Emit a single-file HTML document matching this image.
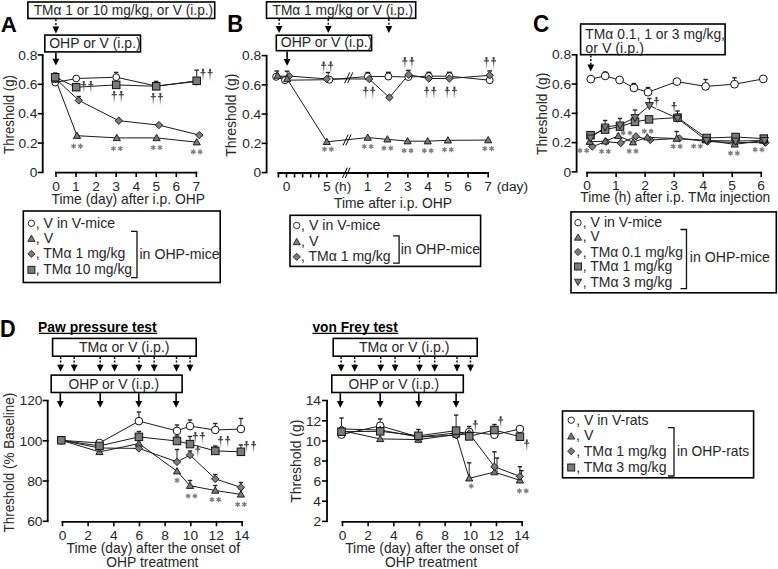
<!DOCTYPE html>
<html><head><meta charset="utf-8"><style>
html,body{margin:0;padding:0;background:#fff;width:778px;height:569px;overflow:hidden}
svg{display:block;font-family:"Liberation Sans",sans-serif}
</style></head><body>
<svg width="778" height="569" viewBox="0 0 778 569">
<defs><linearGradient id="dg" x1="0" y1="0" x2="0" y2="1"><stop offset="0" stop-color="#3a3a3a"/><stop offset="0.4" stop-color="#5a5a5a"/><stop offset="1" stop-color="#fafafa"/></linearGradient></defs>
<text transform="translate(0.64,31.6) scale(0.97,1)" font-size="23" font-weight="bold" fill="#000">A</text>
<rect x="27.9" y="2" width="186.8" height="16.5" fill="#fff" stroke="#000" stroke-width="1.6"/>
<text transform="translate(33.73,14.7) scale(0.98,1)" font-size="14" fill="#262626">TMα 1 or 10 mg/kg, or V (i.p.)</text>
<line x1="55.9" y1="19.3" x2="55.9" y2="27" stroke="#111" stroke-width="1.5" stroke-dasharray="2,1.6"/>
<polygon points="52.5,26.5 59.3,26.5 55.9,33.4" fill="#000"/>
<rect x="44.8" y="35.1" width="95.7" height="16.8" fill="#fff" stroke="#000" stroke-width="1.6"/>
<text transform="translate(49.17,48) scale(1,1)" font-size="14" fill="#262626">OHP or V (i.p.)</text>
<line x1="55.9" y1="52.7" x2="55.9" y2="59.2" stroke="#000" stroke-width="1.6"/>
<polygon points="52.5,58.7 59.3,58.7 55.9,65.6" fill="#000"/>
<line x1="42.7" y1="54.9" x2="42.7" y2="172.5" stroke="#000" stroke-width="1.8"/>
<line x1="37.7" y1="54.9" x2="43.6" y2="54.9" stroke="#000" stroke-width="1.6"/>
<text transform="translate(18.32,59.6) scale(1.02,1)" font-size="13.5" fill="#262626">0.8</text>
<line x1="37.7" y1="84.3" x2="43.6" y2="84.3" stroke="#000" stroke-width="1.6"/>
<text transform="translate(18.32,89) scale(1.02,1)" font-size="13.5" fill="#262626">0.6</text>
<line x1="37.7" y1="113.7" x2="43.6" y2="113.7" stroke="#000" stroke-width="1.6"/>
<text transform="translate(18.18,118.4) scale(1.02,1)" font-size="13.5" fill="#262626">0.4</text>
<line x1="37.7" y1="143.1" x2="43.6" y2="143.1" stroke="#000" stroke-width="1.6"/>
<text transform="translate(18.46,147.8) scale(1.02,1)" font-size="13.5" fill="#262626">0.2</text>
<line x1="37.7" y1="172.5" x2="43.6" y2="172.5" stroke="#000" stroke-width="1.6"/>
<text transform="translate(29.8,177.2) scale(1.02,1)" font-size="13.5" fill="#262626">0</text>
<text transform="translate(13.5,153.97) rotate(-90) scale(0.95,1)" font-size="14" fill="#262626">Threshold (g)</text>
<line x1="55.1" y1="172.6" x2="197.25" y2="172.6" stroke="#000" stroke-width="1.8"/>
<line x1="56" y1="171.7" x2="56" y2="177.1" stroke="#000" stroke-width="1.6"/>
<line x1="76.05" y1="171.7" x2="76.05" y2="177.1" stroke="#000" stroke-width="1.6"/>
<line x1="96.1" y1="171.7" x2="96.1" y2="177.1" stroke="#000" stroke-width="1.6"/>
<line x1="116.15" y1="171.7" x2="116.15" y2="177.1" stroke="#000" stroke-width="1.6"/>
<line x1="136.2" y1="171.7" x2="136.2" y2="177.1" stroke="#000" stroke-width="1.6"/>
<line x1="156.25" y1="171.7" x2="156.25" y2="177.1" stroke="#000" stroke-width="1.6"/>
<line x1="176.3" y1="171.7" x2="176.3" y2="177.1" stroke="#000" stroke-width="1.6"/>
<line x1="196.35" y1="171.7" x2="196.35" y2="177.1" stroke="#000" stroke-width="1.6"/>
<text transform="translate(52.13,190.8) scale(1.02,1)" font-size="13.5" fill="#262626">0</text>
<text transform="translate(72,190.8) scale(1.02,1)" font-size="13.5" fill="#262626">1</text>
<text transform="translate(92.26,190.8) scale(1.02,1)" font-size="13.5" fill="#262626">2</text>
<text transform="translate(112.31,190.8) scale(1.02,1)" font-size="13.5" fill="#262626">3</text>
<text transform="translate(132.43,190.8) scale(1.02,1)" font-size="13.5" fill="#262626">4</text>
<text transform="translate(152.41,190.8) scale(1.02,1)" font-size="13.5" fill="#262626">5</text>
<text transform="translate(172.39,190.8) scale(1.02,1)" font-size="13.5" fill="#262626">6</text>
<text transform="translate(192.51,190.8) scale(1.02,1)" font-size="13.5" fill="#262626">7</text>
<text transform="translate(51.52,204.3) scale(0.99,1)" font-size="14" fill="#262626">Time (day) after i.p. OHP</text>
<polyline points="55.6,79.5 77,135.7 116.8,137.9 156.6,137.9 196.7,142.2" fill="none" stroke="#1a1a1a" stroke-width="1" stroke-linejoin="round"/>
<polyline points="56,79 78.8,100.4 118.8,120.7 158.9,125.1 199.3,135.1" fill="none" stroke="#1a1a1a" stroke-width="1" stroke-linejoin="round"/>
<polyline points="55.2,82.6 76.2,78.5 116.2,77.2 156.2,86 196.5,81.5" fill="none" stroke="#1a1a1a" stroke-width="1" stroke-linejoin="round"/>
<polyline points="55.2,77.3 76.2,87.2 116.2,84.9 156.2,86.3 196.7,80.8" fill="none" stroke="#1a1a1a" stroke-width="1" stroke-linejoin="round"/>
<line x1="116.2" y1="77.2" x2="116.2" y2="72.4" stroke="#222" stroke-width="1"/>
<line x1="114" y1="72.4" x2="118.4" y2="72.4" stroke="#222" stroke-width="1.4"/>
<line x1="156.2" y1="86" x2="156.2" y2="81.4" stroke="#222" stroke-width="1"/>
<line x1="154" y1="81.4" x2="158.4" y2="81.4" stroke="#222" stroke-width="1.4"/>
<line x1="196.7" y1="80.8" x2="196.7" y2="70.2" stroke="#222" stroke-width="1"/>
<line x1="194.5" y1="70.2" x2="198.9" y2="70.2" stroke="#222" stroke-width="1.4"/>
<line x1="78.8" y1="100.4" x2="78.8" y2="96.5" stroke="#222" stroke-width="1"/>
<line x1="76.6" y1="96.5" x2="81" y2="96.5" stroke="#222" stroke-width="1.4"/>
<line x1="55.2" y1="77.3" x2="55.2" y2="73" stroke="#222" stroke-width="1"/>
<line x1="53" y1="73" x2="57.4" y2="73" stroke="#222" stroke-width="1.4"/>
<circle cx="55.2" cy="82.6" r="3.4" fill="#fff" stroke="#111" stroke-width="1"/>
<circle cx="76.2" cy="78.5" r="3.4" fill="#fff" stroke="#111" stroke-width="1"/>
<circle cx="116.2" cy="77.2" r="3.4" fill="#fff" stroke="#111" stroke-width="1"/>
<circle cx="156.2" cy="86" r="3.4" fill="#fff" stroke="#111" stroke-width="1"/>
<circle cx="196.5" cy="81.5" r="3.4" fill="#fff" stroke="#111" stroke-width="1"/>
<polygon points="55.6,75.9 52,82.2 59.2,82.2" fill="#7b7b7b" stroke="#111" stroke-width="0.9" stroke-linejoin="round"/>
<polygon points="77,132.1 73.4,138.4 80.6,138.4" fill="#7b7b7b" stroke="#111" stroke-width="0.9" stroke-linejoin="round"/>
<polygon points="116.8,134.3 113.2,140.6 120.4,140.6" fill="#7b7b7b" stroke="#111" stroke-width="0.9" stroke-linejoin="round"/>
<polygon points="156.6,134.3 153,140.6 160.2,140.6" fill="#7b7b7b" stroke="#111" stroke-width="0.9" stroke-linejoin="round"/>
<polygon points="196.7,138.6 193.1,144.9 200.3,144.9" fill="#7b7b7b" stroke="#111" stroke-width="0.9" stroke-linejoin="round"/>
<polygon points="56,75.3 59.7,79 56,82.7 52.3,79" fill="#7b7b7b" stroke="#111" stroke-width="0.9" stroke-linejoin="round"/>
<polygon points="78.8,96.7 82.5,100.4 78.8,104.1 75.1,100.4" fill="#7b7b7b" stroke="#111" stroke-width="0.9" stroke-linejoin="round"/>
<polygon points="118.8,117 122.5,120.7 118.8,124.4 115.1,120.7" fill="#7b7b7b" stroke="#111" stroke-width="0.9" stroke-linejoin="round"/>
<polygon points="158.9,121.4 162.6,125.1 158.9,128.8 155.2,125.1" fill="#7b7b7b" stroke="#111" stroke-width="0.9" stroke-linejoin="round"/>
<polygon points="199.3,131.4 203,135.1 199.3,138.8 195.6,135.1" fill="#7b7b7b" stroke="#111" stroke-width="0.9" stroke-linejoin="round"/>
<rect x="51.45" y="73.55" width="7.5" height="7.5" fill="#7b7b7b" stroke="#111" stroke-width="1"/>
<rect x="72.45" y="83.45" width="7.5" height="7.5" fill="#7b7b7b" stroke="#111" stroke-width="1"/>
<rect x="112.45" y="81.15" width="7.5" height="7.5" fill="#7b7b7b" stroke="#111" stroke-width="1"/>
<rect x="152.45" y="82.55" width="7.5" height="7.5" fill="#7b7b7b" stroke="#111" stroke-width="1"/>
<rect x="192.95" y="77.05" width="7.5" height="7.5" fill="#7b7b7b" stroke="#111" stroke-width="1"/>
<rect x="83.05" y="81" width="1.3" height="12" fill="url(#dg)"/>
<rect x="82.75" y="81" width="1.9" height="2.4" fill="#444"/>
<rect x="81.2" y="84" width="5.0" height="1.3" fill="#4a4a4a"/>
<rect x="90.15" y="81" width="1.3" height="12" fill="url(#dg)"/>
<rect x="89.85" y="81" width="1.9" height="2.4" fill="#444"/>
<rect x="88.3" y="84" width="5.0" height="1.3" fill="#4a4a4a"/>
<rect x="113.55" y="91" width="1.3" height="12" fill="url(#dg)"/>
<rect x="113.25" y="91" width="1.9" height="2.4" fill="#444"/>
<rect x="111.7" y="94" width="5.0" height="1.3" fill="#4a4a4a"/>
<rect x="120.65" y="91" width="1.3" height="12" fill="url(#dg)"/>
<rect x="120.35" y="91" width="1.9" height="2.4" fill="#444"/>
<rect x="118.8" y="94" width="5.0" height="1.3" fill="#4a4a4a"/>
<rect x="152.65" y="93" width="1.3" height="12" fill="url(#dg)"/>
<rect x="152.35" y="93" width="1.9" height="2.4" fill="#444"/>
<rect x="150.8" y="96" width="5.0" height="1.3" fill="#4a4a4a"/>
<rect x="159.75" y="93" width="1.3" height="12" fill="url(#dg)"/>
<rect x="159.45" y="93" width="1.9" height="2.4" fill="#444"/>
<rect x="157.9" y="96" width="5.0" height="1.3" fill="#4a4a4a"/>
<rect x="202.35" y="68.9" width="1.3" height="12" fill="url(#dg)"/>
<rect x="202.05" y="68.9" width="1.9" height="2.4" fill="#444"/>
<rect x="200.5" y="71.9" width="5.0" height="1.3" fill="#4a4a4a"/>
<rect x="209.45" y="68.9" width="1.3" height="12" fill="url(#dg)"/>
<rect x="209.15" y="68.9" width="1.9" height="2.4" fill="#444"/>
<rect x="207.6" y="71.9" width="5.0" height="1.3" fill="#4a4a4a"/>
<line x1="73.6" y1="143.6" x2="73.6" y2="148.8" stroke="#7c7c7c" stroke-width="1.25"/>
<line x1="71.35" y1="144.9" x2="75.85" y2="147.5" stroke="#7c7c7c" stroke-width="1.25"/>
<line x1="75.85" y1="144.9" x2="71.35" y2="147.5" stroke="#7c7c7c" stroke-width="1.25"/>
<line x1="80.4" y1="143.6" x2="80.4" y2="148.8" stroke="#7c7c7c" stroke-width="1.25"/>
<line x1="78.15" y1="144.9" x2="82.65" y2="147.5" stroke="#7c7c7c" stroke-width="1.25"/>
<line x1="82.65" y1="144.9" x2="78.15" y2="147.5" stroke="#7c7c7c" stroke-width="1.25"/>
<line x1="113.5" y1="145.9" x2="113.5" y2="151.1" stroke="#7c7c7c" stroke-width="1.25"/>
<line x1="111.25" y1="147.2" x2="115.75" y2="149.8" stroke="#7c7c7c" stroke-width="1.25"/>
<line x1="115.75" y1="147.2" x2="111.25" y2="149.8" stroke="#7c7c7c" stroke-width="1.25"/>
<line x1="120.3" y1="145.9" x2="120.3" y2="151.1" stroke="#7c7c7c" stroke-width="1.25"/>
<line x1="118.05" y1="147.2" x2="122.55" y2="149.8" stroke="#7c7c7c" stroke-width="1.25"/>
<line x1="122.55" y1="147.2" x2="118.05" y2="149.8" stroke="#7c7c7c" stroke-width="1.25"/>
<line x1="153.2" y1="144.9" x2="153.2" y2="150.1" stroke="#7c7c7c" stroke-width="1.25"/>
<line x1="150.95" y1="146.2" x2="155.45" y2="148.8" stroke="#7c7c7c" stroke-width="1.25"/>
<line x1="155.45" y1="146.2" x2="150.95" y2="148.8" stroke="#7c7c7c" stroke-width="1.25"/>
<line x1="160" y1="144.9" x2="160" y2="150.1" stroke="#7c7c7c" stroke-width="1.25"/>
<line x1="157.75" y1="146.2" x2="162.25" y2="148.8" stroke="#7c7c7c" stroke-width="1.25"/>
<line x1="162.25" y1="146.2" x2="157.75" y2="148.8" stroke="#7c7c7c" stroke-width="1.25"/>
<line x1="193.3" y1="149.2" x2="193.3" y2="154.4" stroke="#7c7c7c" stroke-width="1.25"/>
<line x1="191.05" y1="150.5" x2="195.55" y2="153.1" stroke="#7c7c7c" stroke-width="1.25"/>
<line x1="195.55" y1="150.5" x2="191.05" y2="153.1" stroke="#7c7c7c" stroke-width="1.25"/>
<line x1="200.1" y1="149.2" x2="200.1" y2="154.4" stroke="#7c7c7c" stroke-width="1.25"/>
<line x1="197.85" y1="150.5" x2="202.35" y2="153.1" stroke="#7c7c7c" stroke-width="1.25"/>
<line x1="202.35" y1="150.5" x2="197.85" y2="153.1" stroke="#7c7c7c" stroke-width="1.25"/>
<rect x="23.3" y="211" width="196.9" height="71.5" fill="#fff" stroke="#000" stroke-width="1.6"/>
<circle cx="31.4" cy="223.3" r="3.2" fill="#fff" stroke="#111" stroke-width="0.9"/>
<text transform="translate(35.73,227.8) scale(1.01,1)" font-size="14" fill="#262626">, V in V-mice</text>
<polygon points="31.4,235.1 27.8,241.4 35,241.4" fill="#7b7b7b" stroke="#111" stroke-width="0.8" stroke-linejoin="round"/>
<text transform="translate(35.71,242.6) scale(1.02,1)" font-size="14" fill="#262626">, V</text>
<polygon points="31.4,250.3 35,253.9 31.4,257.5 27.8,253.9" fill="#7b7b7b" stroke="#111" stroke-width="0.8" stroke-linejoin="round"/>
<text transform="translate(35.74,258.4) scale(1,1)" font-size="14" fill="#262626">, TMα 1 mg/kg</text>
<rect x="27.9" y="266.3" width="7" height="7" fill="#7b7b7b" stroke="#111" stroke-width="0.9"/>
<text transform="translate(35.75,274.3) scale(0.99,1)" font-size="14" fill="#262626">, TMα 10 mg/kg</text>
<polyline points="131,231.4 137,231.4 137,277.7 131,277.7" fill="none" stroke="#111" stroke-width="1.3"/>
<text transform="translate(139.48,258.5) scale(1.01,1)" font-size="14" fill="#262626">in OHP-mice</text>
<text transform="translate(227.26,31.7) scale(0.96,1)" font-size="23" font-weight="bold" fill="#000">B</text>
<rect x="266.5" y="1.8" width="149.2" height="16.5" fill="#fff" stroke="#000" stroke-width="1.6"/>
<text transform="translate(272.52,14.7) scale(0.98,1)" font-size="14" fill="#262626">TMα 1 mg/kg or V (i.p.)</text>
<line x1="279.1" y1="19.1" x2="279.1" y2="26.6" stroke="#111" stroke-width="1.5" stroke-dasharray="2,1.6"/>
<polygon points="275.7,26.1 282.5,26.1 279.1,33" fill="#000"/>
<line x1="328.3" y1="19.1" x2="328.3" y2="26.6" stroke="#111" stroke-width="1.5" stroke-dasharray="2,1.6"/>
<polygon points="324.9,26.1 331.7,26.1 328.3,33" fill="#000"/>
<line x1="388.9" y1="19.1" x2="388.9" y2="26.6" stroke="#111" stroke-width="1.5" stroke-dasharray="2,1.6"/>
<polygon points="385.5,26.1 392.3,26.1 388.9,33" fill="#000"/>
<rect x="276.3" y="35.2" width="95.3" height="15.5" fill="#fff" stroke="#000" stroke-width="1.6"/>
<text transform="translate(280.77,47.4) scale(1,1)" font-size="14" fill="#262626">OHP or V (i.p.)</text>
<line x1="287.1" y1="51.5" x2="287.1" y2="59.4" stroke="#000" stroke-width="1.6"/>
<polygon points="283.7,58.9 290.5,58.9 287.1,65.8" fill="#000"/>
<line x1="266.6" y1="55.6" x2="266.6" y2="172.6" stroke="#000" stroke-width="1.8"/>
<line x1="261.6" y1="55.6" x2="267.5" y2="55.6" stroke="#000" stroke-width="1.6"/>
<text transform="translate(242.12,60.3) scale(1.02,1)" font-size="13.5" fill="#262626">0.8</text>
<line x1="261.6" y1="84.85" x2="267.5" y2="84.85" stroke="#000" stroke-width="1.6"/>
<text transform="translate(242.12,89.55) scale(1.02,1)" font-size="13.5" fill="#262626">0.6</text>
<line x1="261.6" y1="114.1" x2="267.5" y2="114.1" stroke="#000" stroke-width="1.6"/>
<text transform="translate(241.98,118.8) scale(1.02,1)" font-size="13.5" fill="#262626">0.4</text>
<line x1="261.6" y1="143.35" x2="267.5" y2="143.35" stroke="#000" stroke-width="1.6"/>
<text transform="translate(242.26,148.05) scale(1.02,1)" font-size="13.5" fill="#262626">0.2</text>
<line x1="261.6" y1="172.6" x2="267.5" y2="172.6" stroke="#000" stroke-width="1.6"/>
<text transform="translate(253.6,177.3) scale(1.02,1)" font-size="13.5" fill="#262626">0</text>
<text transform="translate(236.4,156.78) rotate(-90) scale(1,1)" font-size="14" fill="#262626">Threshold (g)</text>
<line x1="277.6" y1="173" x2="489" y2="173" stroke="#000" stroke-width="1.8"/>
<line x1="278.44" y1="172.1" x2="278.44" y2="177.5" stroke="#000" stroke-width="1.6"/>
<line x1="286.5" y1="172.1" x2="286.5" y2="177.5" stroke="#000" stroke-width="1.6"/>
<line x1="294.56" y1="172.1" x2="294.56" y2="177.5" stroke="#000" stroke-width="1.6"/>
<line x1="302.62" y1="172.1" x2="302.62" y2="177.5" stroke="#000" stroke-width="1.6"/>
<line x1="310.68" y1="172.1" x2="310.68" y2="177.5" stroke="#000" stroke-width="1.6"/>
<line x1="318.74" y1="172.1" x2="318.74" y2="177.5" stroke="#000" stroke-width="1.6"/>
<line x1="326.8" y1="172.1" x2="326.8" y2="177.5" stroke="#000" stroke-width="1.6"/>
<line x1="367.7" y1="172.1" x2="367.7" y2="177.5" stroke="#000" stroke-width="1.6"/>
<line x1="387.78" y1="172.1" x2="387.78" y2="177.5" stroke="#000" stroke-width="1.6"/>
<line x1="407.86" y1="172.1" x2="407.86" y2="177.5" stroke="#000" stroke-width="1.6"/>
<line x1="427.94" y1="172.1" x2="427.94" y2="177.5" stroke="#000" stroke-width="1.6"/>
<line x1="448.02" y1="172.1" x2="448.02" y2="177.5" stroke="#000" stroke-width="1.6"/>
<line x1="468.1" y1="172.1" x2="468.1" y2="177.5" stroke="#000" stroke-width="1.6"/>
<line x1="488.18" y1="172.1" x2="488.18" y2="177.5" stroke="#000" stroke-width="1.6"/>
<line x1="342.5" y1="177.9" x2="347.3" y2="167.7" stroke="#000" stroke-width="1"/>
<line x1="345.3" y1="177.9" x2="350.1" y2="167.7" stroke="#000" stroke-width="1"/>
<text transform="translate(282.63,191.2) scale(1.02,1)" font-size="13.5" fill="#262626">0</text>
<text transform="translate(323.05,191.2) scale(1.02,1)" font-size="13.5" fill="#262626">5 (h)</text>
<text transform="translate(363.65,191.2) scale(1.02,1)" font-size="13.5" fill="#262626">1</text>
<text transform="translate(383.94,191.2) scale(1.02,1)" font-size="13.5" fill="#262626">2</text>
<text transform="translate(404.02,191.2) scale(1.02,1)" font-size="13.5" fill="#262626">3</text>
<text transform="translate(424.17,191.2) scale(1.02,1)" font-size="13.5" fill="#262626">4</text>
<text transform="translate(444.18,191.2) scale(1.02,1)" font-size="13.5" fill="#262626">5</text>
<text transform="translate(464.19,191.2) scale(1.02,1)" font-size="13.5" fill="#262626">6</text>
<text transform="translate(484.34,191.2) scale(1.02,1)" font-size="13.5" fill="#262626">7</text>
<text transform="translate(496.67,191.2) scale(1.02,1)" font-size="13.5" fill="#262626">(day)</text>
<text transform="translate(334.02,208.2) scale(0.99,1)" font-size="14" fill="#262626">Time after i.p. OHP</text>
<polyline points="276.2,76.8 285,80.2 329.3,79.7 367.8,76.5 388.4,76.5 408.4,77 428.8,76.2 449.4,76.2 489.7,80.2" fill="none" stroke="#1a1a1a" stroke-width="1" stroke-linejoin="round"/>
<polyline points="276.8,76.3 289.2,76.1 326.7,78.9 369.2,79 389.4,97.5 408.6,74.7 428.8,78.5 449.4,78.5 489.7,75.3" fill="none" stroke="#1a1a1a" stroke-width="1" stroke-linejoin="round"/>
<polyline points="277.6,75.6 287.1,78.9 326.8,141.8 367.7,137.6 387.4,139.3 407.6,141.2 427.7,141.2 447.9,140.3 488.2,140.1" fill="none" stroke="#1a1a1a" stroke-width="1" stroke-linejoin="round"/>
<line x1="344.6" y1="83.2" x2="349.8" y2="72.4" stroke="#000" stroke-width="1"/>
<line x1="347.6" y1="83.2" x2="352.8" y2="72.4" stroke="#000" stroke-width="1"/>
<line x1="343" y1="145.4" x2="348.2" y2="134.6" stroke="#000" stroke-width="1"/>
<line x1="345.8" y1="145.4" x2="351" y2="134.6" stroke="#000" stroke-width="1"/>
<line x1="276.8" y1="76" x2="276.8" y2="71" stroke="#222" stroke-width="1"/>
<line x1="274.4" y1="71" x2="279.2" y2="71" stroke="#222" stroke-width="1.4"/>
<line x1="287.1" y1="78" x2="287.1" y2="71.2" stroke="#222" stroke-width="1"/>
<line x1="284.7" y1="71.2" x2="289.5" y2="71.2" stroke="#222" stroke-width="1.4"/>
<line x1="328.2" y1="79" x2="328.2" y2="72.5" stroke="#222" stroke-width="1"/>
<line x1="325.8" y1="72.5" x2="330.6" y2="72.5" stroke="#222" stroke-width="1.4"/>
<line x1="367.8" y1="76.5" x2="367.8" y2="72.5" stroke="#222" stroke-width="1"/>
<line x1="365.4" y1="72.5" x2="370.2" y2="72.5" stroke="#222" stroke-width="1.4"/>
<line x1="388.4" y1="76.5" x2="388.4" y2="72.3" stroke="#222" stroke-width="1"/>
<line x1="386" y1="72.3" x2="390.8" y2="72.3" stroke="#222" stroke-width="1.4"/>
<line x1="408.4" y1="75" x2="408.4" y2="70.4" stroke="#222" stroke-width="1"/>
<line x1="406" y1="70.4" x2="410.8" y2="70.4" stroke="#222" stroke-width="1.4"/>
<line x1="428.8" y1="76.2" x2="428.8" y2="72.3" stroke="#222" stroke-width="1"/>
<line x1="426.4" y1="72.3" x2="431.2" y2="72.3" stroke="#222" stroke-width="1.4"/>
<line x1="449.4" y1="76.2" x2="449.4" y2="72.3" stroke="#222" stroke-width="1"/>
<line x1="447" y1="72.3" x2="451.8" y2="72.3" stroke="#222" stroke-width="1.4"/>
<line x1="489.7" y1="75.3" x2="489.7" y2="70.9" stroke="#222" stroke-width="1"/>
<line x1="487.3" y1="70.9" x2="492.1" y2="70.9" stroke="#222" stroke-width="1.4"/>
<circle cx="276.2" cy="76.8" r="3.5" fill="#fff" stroke="#111" stroke-width="1"/>
<circle cx="285" cy="80.2" r="3.5" fill="#fff" stroke="#111" stroke-width="1"/>
<circle cx="329.3" cy="79.7" r="3.5" fill="#fff" stroke="#111" stroke-width="1"/>
<circle cx="367.8" cy="76.5" r="3.5" fill="#fff" stroke="#111" stroke-width="1"/>
<circle cx="388.4" cy="76.5" r="3.5" fill="#fff" stroke="#111" stroke-width="1"/>
<circle cx="408.4" cy="77" r="3.5" fill="#fff" stroke="#111" stroke-width="1"/>
<circle cx="428.8" cy="76.2" r="3.5" fill="#fff" stroke="#111" stroke-width="1"/>
<circle cx="449.4" cy="76.2" r="3.5" fill="#fff" stroke="#111" stroke-width="1"/>
<circle cx="489.7" cy="80.2" r="3.5" fill="#fff" stroke="#111" stroke-width="1"/>
<polygon points="289.2,72.4 292.9,76.1 289.2,79.8 285.5,76.1" fill="#7b7b7b" stroke="#111" stroke-width="0.9" stroke-linejoin="round"/>
<polygon points="326.7,75.2 330.4,78.9 326.7,82.6 323,78.9" fill="#7b7b7b" stroke="#111" stroke-width="0.9" stroke-linejoin="round"/>
<polygon points="369.2,75.3 372.9,79 369.2,82.7 365.5,79" fill="#7b7b7b" stroke="#111" stroke-width="0.9" stroke-linejoin="round"/>
<polygon points="389.4,93.8 393.1,97.5 389.4,101.2 385.7,97.5" fill="#7b7b7b" stroke="#111" stroke-width="0.9" stroke-linejoin="round"/>
<polygon points="408.6,71 412.3,74.7 408.6,78.4 404.9,74.7" fill="#7b7b7b" stroke="#111" stroke-width="0.9" stroke-linejoin="round"/>
<polygon points="428.8,74.8 432.5,78.5 428.8,82.2 425.1,78.5" fill="#7b7b7b" stroke="#111" stroke-width="0.9" stroke-linejoin="round"/>
<polygon points="449.4,74.8 453.1,78.5 449.4,82.2 445.7,78.5" fill="#7b7b7b" stroke="#111" stroke-width="0.9" stroke-linejoin="round"/>
<polygon points="489.7,71.6 493.4,75.3 489.7,79 486,75.3" fill="#7b7b7b" stroke="#111" stroke-width="0.9" stroke-linejoin="round"/>
<polygon points="277.6,72 274,78.3 281.2,78.3" fill="#7b7b7b" stroke="#111" stroke-width="0.9" stroke-linejoin="round"/>
<polygon points="287.1,75.3 283.5,81.6 290.7,81.6" fill="#7b7b7b" stroke="#111" stroke-width="0.9" stroke-linejoin="round"/>
<polygon points="326.8,138.2 323.2,144.5 330.4,144.5" fill="#7b7b7b" stroke="#111" stroke-width="0.9" stroke-linejoin="round"/>
<polygon points="367.7,134 364.1,140.3 371.3,140.3" fill="#7b7b7b" stroke="#111" stroke-width="0.9" stroke-linejoin="round"/>
<polygon points="387.4,135.7 383.8,142 391,142" fill="#7b7b7b" stroke="#111" stroke-width="0.9" stroke-linejoin="round"/>
<polygon points="407.6,137.6 404,143.9 411.2,143.9" fill="#7b7b7b" stroke="#111" stroke-width="0.9" stroke-linejoin="round"/>
<polygon points="427.7,137.6 424.1,143.9 431.3,143.9" fill="#7b7b7b" stroke="#111" stroke-width="0.9" stroke-linejoin="round"/>
<polygon points="447.9,136.7 444.3,143 451.5,143" fill="#7b7b7b" stroke="#111" stroke-width="0.9" stroke-linejoin="round"/>
<polygon points="488.2,136.5 484.6,142.8 491.8,142.8" fill="#7b7b7b" stroke="#111" stroke-width="0.9" stroke-linejoin="round"/>
<rect x="322.95" y="61.6" width="1.3" height="12" fill="url(#dg)"/>
<rect x="322.65" y="61.6" width="1.9" height="2.4" fill="#444"/>
<rect x="321.1" y="64.6" width="5.0" height="1.3" fill="#4a4a4a"/>
<rect x="330.05" y="61.6" width="1.3" height="12" fill="url(#dg)"/>
<rect x="329.75" y="61.6" width="1.9" height="2.4" fill="#444"/>
<rect x="328.2" y="64.6" width="5.0" height="1.3" fill="#4a4a4a"/>
<rect x="364.95" y="86.8" width="1.3" height="12" fill="url(#dg)"/>
<rect x="364.65" y="86.8" width="1.9" height="2.4" fill="#444"/>
<rect x="363.1" y="89.8" width="5.0" height="1.3" fill="#4a4a4a"/>
<rect x="372.05" y="86.8" width="1.3" height="12" fill="url(#dg)"/>
<rect x="371.75" y="86.8" width="1.9" height="2.4" fill="#444"/>
<rect x="370.2" y="89.8" width="5.0" height="1.3" fill="#4a4a4a"/>
<rect x="404.15" y="57.2" width="1.3" height="12" fill="url(#dg)"/>
<rect x="403.85" y="57.2" width="1.9" height="2.4" fill="#444"/>
<rect x="402.3" y="60.2" width="5.0" height="1.3" fill="#4a4a4a"/>
<rect x="411.25" y="57.2" width="1.3" height="12" fill="url(#dg)"/>
<rect x="410.95" y="57.2" width="1.9" height="2.4" fill="#444"/>
<rect x="409.4" y="60.2" width="5.0" height="1.3" fill="#4a4a4a"/>
<rect x="426.05" y="86.8" width="1.3" height="12" fill="url(#dg)"/>
<rect x="425.75" y="86.8" width="1.9" height="2.4" fill="#444"/>
<rect x="424.2" y="89.8" width="5.0" height="1.3" fill="#4a4a4a"/>
<rect x="433.15" y="86.8" width="1.3" height="12" fill="url(#dg)"/>
<rect x="432.85" y="86.8" width="1.9" height="2.4" fill="#444"/>
<rect x="431.3" y="89.8" width="5.0" height="1.3" fill="#4a4a4a"/>
<rect x="446.65" y="86.8" width="1.3" height="12" fill="url(#dg)"/>
<rect x="446.35" y="86.8" width="1.9" height="2.4" fill="#444"/>
<rect x="444.8" y="89.8" width="5.0" height="1.3" fill="#4a4a4a"/>
<rect x="453.75" y="86.8" width="1.3" height="12" fill="url(#dg)"/>
<rect x="453.45" y="86.8" width="1.9" height="2.4" fill="#444"/>
<rect x="451.9" y="89.8" width="5.0" height="1.3" fill="#4a4a4a"/>
<rect x="485.85" y="57.2" width="1.3" height="12" fill="url(#dg)"/>
<rect x="485.55" y="57.2" width="1.9" height="2.4" fill="#444"/>
<rect x="484" y="60.2" width="5.0" height="1.3" fill="#4a4a4a"/>
<rect x="492.95" y="57.2" width="1.3" height="12" fill="url(#dg)"/>
<rect x="492.65" y="57.2" width="1.9" height="2.4" fill="#444"/>
<rect x="491.1" y="60.2" width="5.0" height="1.3" fill="#4a4a4a"/>
<line x1="324.5" y1="146.6" x2="324.5" y2="151.8" stroke="#7c7c7c" stroke-width="1.25"/>
<line x1="322.25" y1="147.9" x2="326.75" y2="150.5" stroke="#7c7c7c" stroke-width="1.25"/>
<line x1="326.75" y1="147.9" x2="322.25" y2="150.5" stroke="#7c7c7c" stroke-width="1.25"/>
<line x1="331.3" y1="146.6" x2="331.3" y2="151.8" stroke="#7c7c7c" stroke-width="1.25"/>
<line x1="329.05" y1="147.9" x2="333.55" y2="150.5" stroke="#7c7c7c" stroke-width="1.25"/>
<line x1="333.55" y1="147.9" x2="329.05" y2="150.5" stroke="#7c7c7c" stroke-width="1.25"/>
<line x1="364.3" y1="143.9" x2="364.3" y2="149.1" stroke="#7c7c7c" stroke-width="1.25"/>
<line x1="362.05" y1="145.2" x2="366.55" y2="147.8" stroke="#7c7c7c" stroke-width="1.25"/>
<line x1="366.55" y1="145.2" x2="362.05" y2="147.8" stroke="#7c7c7c" stroke-width="1.25"/>
<line x1="371.1" y1="143.9" x2="371.1" y2="149.1" stroke="#7c7c7c" stroke-width="1.25"/>
<line x1="368.85" y1="145.2" x2="373.35" y2="147.8" stroke="#7c7c7c" stroke-width="1.25"/>
<line x1="373.35" y1="145.2" x2="368.85" y2="147.8" stroke="#7c7c7c" stroke-width="1.25"/>
<line x1="384" y1="145.6" x2="384" y2="150.8" stroke="#7c7c7c" stroke-width="1.25"/>
<line x1="381.75" y1="146.9" x2="386.25" y2="149.5" stroke="#7c7c7c" stroke-width="1.25"/>
<line x1="386.25" y1="146.9" x2="381.75" y2="149.5" stroke="#7c7c7c" stroke-width="1.25"/>
<line x1="390.8" y1="145.6" x2="390.8" y2="150.8" stroke="#7c7c7c" stroke-width="1.25"/>
<line x1="388.55" y1="146.9" x2="393.05" y2="149.5" stroke="#7c7c7c" stroke-width="1.25"/>
<line x1="393.05" y1="146.9" x2="388.55" y2="149.5" stroke="#7c7c7c" stroke-width="1.25"/>
<line x1="404.2" y1="148.1" x2="404.2" y2="153.3" stroke="#7c7c7c" stroke-width="1.25"/>
<line x1="401.95" y1="149.4" x2="406.45" y2="152" stroke="#7c7c7c" stroke-width="1.25"/>
<line x1="406.45" y1="149.4" x2="401.95" y2="152" stroke="#7c7c7c" stroke-width="1.25"/>
<line x1="411" y1="148.1" x2="411" y2="153.3" stroke="#7c7c7c" stroke-width="1.25"/>
<line x1="408.75" y1="149.4" x2="413.25" y2="152" stroke="#7c7c7c" stroke-width="1.25"/>
<line x1="413.25" y1="149.4" x2="408.75" y2="152" stroke="#7c7c7c" stroke-width="1.25"/>
<line x1="424.3" y1="148.1" x2="424.3" y2="153.3" stroke="#7c7c7c" stroke-width="1.25"/>
<line x1="422.05" y1="149.4" x2="426.55" y2="152" stroke="#7c7c7c" stroke-width="1.25"/>
<line x1="426.55" y1="149.4" x2="422.05" y2="152" stroke="#7c7c7c" stroke-width="1.25"/>
<line x1="431.1" y1="148.1" x2="431.1" y2="153.3" stroke="#7c7c7c" stroke-width="1.25"/>
<line x1="428.85" y1="149.4" x2="433.35" y2="152" stroke="#7c7c7c" stroke-width="1.25"/>
<line x1="433.35" y1="149.4" x2="428.85" y2="152" stroke="#7c7c7c" stroke-width="1.25"/>
<line x1="444.5" y1="147.1" x2="444.5" y2="152.3" stroke="#7c7c7c" stroke-width="1.25"/>
<line x1="442.25" y1="148.4" x2="446.75" y2="151" stroke="#7c7c7c" stroke-width="1.25"/>
<line x1="446.75" y1="148.4" x2="442.25" y2="151" stroke="#7c7c7c" stroke-width="1.25"/>
<line x1="451.3" y1="147.1" x2="451.3" y2="152.3" stroke="#7c7c7c" stroke-width="1.25"/>
<line x1="449.05" y1="148.4" x2="453.55" y2="151" stroke="#7c7c7c" stroke-width="1.25"/>
<line x1="453.55" y1="148.4" x2="449.05" y2="151" stroke="#7c7c7c" stroke-width="1.25"/>
<line x1="484.8" y1="146" x2="484.8" y2="151.2" stroke="#7c7c7c" stroke-width="1.25"/>
<line x1="482.55" y1="147.3" x2="487.05" y2="149.9" stroke="#7c7c7c" stroke-width="1.25"/>
<line x1="487.05" y1="147.3" x2="482.55" y2="149.9" stroke="#7c7c7c" stroke-width="1.25"/>
<line x1="491.6" y1="146" x2="491.6" y2="151.2" stroke="#7c7c7c" stroke-width="1.25"/>
<line x1="489.35" y1="147.3" x2="493.85" y2="149.9" stroke="#7c7c7c" stroke-width="1.25"/>
<line x1="493.85" y1="147.3" x2="489.35" y2="149.9" stroke="#7c7c7c" stroke-width="1.25"/>
<rect x="290" y="215.3" width="190.6" height="51.1" fill="#fff" stroke="#000" stroke-width="1.6"/>
<circle cx="296.7" cy="225.5" r="3.2" fill="#fff" stroke="#111" stroke-width="0.9"/>
<text transform="translate(301.03,230) scale(1.01,1)" font-size="14" fill="#262626">, V in V-mice</text>
<polygon points="296.7,238.4 293.1,244.7 300.3,244.7" fill="#7b7b7b" stroke="#111" stroke-width="0.8" stroke-linejoin="round"/>
<text transform="translate(301.01,245.9) scale(1.02,1)" font-size="14" fill="#262626">, V</text>
<polygon points="296.7,253.2 300.3,256.8 296.7,260.4 293.1,256.8" fill="#7b7b7b" stroke="#111" stroke-width="0.8" stroke-linejoin="round"/>
<text transform="translate(301.04,261.3) scale(1,1)" font-size="14" fill="#262626">, TMα 1 mg/kg</text>
<polyline points="393.1,235.9 399.1,235.9 399.1,263.1 393.1,263.1" fill="none" stroke="#111" stroke-width="1.3"/>
<text transform="translate(400.69,253.8) scale(1,1)" font-size="14" fill="#262626">in OHP-mice</text>
<text transform="translate(532.9,31.9) scale(0.96,1)" font-size="23.5" font-weight="bold" fill="#000">C</text>
<rect x="580.6" y="24" width="144.5" height="30.7" fill="#fff" stroke="#000" stroke-width="1.6"/>
<text transform="translate(585.32,39) scale(0.99,1)" font-size="14" fill="#262626">TMα 0.1, 1 or 3 mg/kg,</text>
<text transform="translate(585.23,52.6) scale(1.02,1)" font-size="14" fill="#262626">or V (i.p.)</text>
<line x1="590.8" y1="55.5" x2="590.8" y2="65" stroke="#111" stroke-width="1.5" stroke-dasharray="2,1.6"/>
<polygon points="587.4,64.5 594.2,64.5 590.8,71.4" fill="#000"/>
<line x1="576.6" y1="54.8" x2="576.6" y2="171.9" stroke="#000" stroke-width="1.8"/>
<line x1="571.6" y1="54.78" x2="577.5" y2="54.78" stroke="#000" stroke-width="1.6"/>
<text transform="translate(551.92,59.48) scale(1.02,1)" font-size="13.5" fill="#262626">0.8</text>
<line x1="571.6" y1="84.06" x2="577.5" y2="84.06" stroke="#000" stroke-width="1.6"/>
<text transform="translate(551.92,88.76) scale(1.02,1)" font-size="13.5" fill="#262626">0.6</text>
<line x1="571.6" y1="113.34" x2="577.5" y2="113.34" stroke="#000" stroke-width="1.6"/>
<text transform="translate(551.78,118.04) scale(1.02,1)" font-size="13.5" fill="#262626">0.4</text>
<line x1="571.6" y1="142.62" x2="577.5" y2="142.62" stroke="#000" stroke-width="1.6"/>
<text transform="translate(552.06,147.32) scale(1.02,1)" font-size="13.5" fill="#262626">0.2</text>
<line x1="571.6" y1="171.9" x2="577.5" y2="171.9" stroke="#000" stroke-width="1.6"/>
<text transform="translate(563.4,176.6) scale(1.02,1)" font-size="13.5" fill="#262626">0</text>
<text transform="translate(546.9,155.08) rotate(-90) scale(0.99,1)" font-size="14" fill="#262626">Threshold (g)</text>
<line x1="586.2" y1="172.6" x2="762.12" y2="172.6" stroke="#000" stroke-width="1.8"/>
<line x1="587.1" y1="171.7" x2="587.1" y2="177.1" stroke="#000" stroke-width="1.6"/>
<line x1="616.12" y1="171.7" x2="616.12" y2="177.1" stroke="#000" stroke-width="1.6"/>
<line x1="645.14" y1="171.7" x2="645.14" y2="177.1" stroke="#000" stroke-width="1.6"/>
<line x1="674.16" y1="171.7" x2="674.16" y2="177.1" stroke="#000" stroke-width="1.6"/>
<line x1="703.18" y1="171.7" x2="703.18" y2="177.1" stroke="#000" stroke-width="1.6"/>
<line x1="732.2" y1="171.7" x2="732.2" y2="177.1" stroke="#000" stroke-width="1.6"/>
<line x1="761.22" y1="171.7" x2="761.22" y2="177.1" stroke="#000" stroke-width="1.6"/>
<text transform="translate(583.23,190.2) scale(1.02,1)" font-size="13.5" fill="#262626">0</text>
<text transform="translate(612.07,190.2) scale(1.02,1)" font-size="13.5" fill="#262626">1</text>
<text transform="translate(641.3,190.2) scale(1.02,1)" font-size="13.5" fill="#262626">2</text>
<text transform="translate(670.32,190.2) scale(1.02,1)" font-size="13.5" fill="#262626">3</text>
<text transform="translate(699.41,190.2) scale(1.02,1)" font-size="13.5" fill="#262626">4</text>
<text transform="translate(728.36,190.2) scale(1.02,1)" font-size="13.5" fill="#262626">5</text>
<text transform="translate(757.31,190.2) scale(1.02,1)" font-size="13.5" fill="#262626">6</text>
<text transform="translate(580.32,202) scale(0.97,1)" font-size="14.2" fill="#262626">Time (h) after i.p. TMα injection</text>
<polyline points="590.8,79.1 605.2,75.9 619.6,80 633.9,87.9 648,92.2 676.9,81.6 705.6,86.4 734.5,84.2 763.3,78.9" fill="none" stroke="#1a1a1a" stroke-width="1" stroke-linejoin="round"/>
<polyline points="590.5,135.2 605.1,129.6 620,126.6 635,121.8 649,119.4 677.5,117.6 706.6,138 735.6,137 763.8,138.6" fill="none" stroke="#1a1a1a" stroke-width="1" stroke-linejoin="round"/>
<polyline points="590.5,138 605.1,127 620,125 635,117.6 649.4,105.6 677.5,118.3 706.6,140.5 735.6,141 764.5,140.5" fill="none" stroke="#1a1a1a" stroke-width="1" stroke-linejoin="round"/>
<polyline points="589.7,141.7 605.1,141.2 618.3,135.9 633.1,142.2 647.3,137.3 676.7,138.6 705.5,140.2 734.7,144.4 763,140.5" fill="none" stroke="#1a1a1a" stroke-width="1" stroke-linejoin="round"/>
<polyline points="592.3,146.5 606,141.7 620.8,143 635.9,136.4 650.3,140 679.3,138.4 707.5,141.5 735.5,142.5 765.5,142.7" fill="none" stroke="#1a1a1a" stroke-width="1" stroke-linejoin="round"/>
<line x1="605.2" y1="75.9" x2="605.2" y2="72" stroke="#222" stroke-width="1"/>
<line x1="603" y1="72" x2="607.4" y2="72" stroke="#222" stroke-width="1.4"/>
<line x1="633.9" y1="87.9" x2="633.9" y2="83.5" stroke="#222" stroke-width="1"/>
<line x1="631.7" y1="83.5" x2="636.1" y2="83.5" stroke="#222" stroke-width="1.4"/>
<line x1="648" y1="92.2" x2="648" y2="87.5" stroke="#222" stroke-width="1"/>
<line x1="645.8" y1="87.5" x2="650.2" y2="87.5" stroke="#222" stroke-width="1.4"/>
<line x1="705.6" y1="86.4" x2="705.6" y2="79.5" stroke="#222" stroke-width="1"/>
<line x1="703.4" y1="79.5" x2="707.8" y2="79.5" stroke="#222" stroke-width="1.4"/>
<line x1="734.5" y1="84.2" x2="734.5" y2="77.8" stroke="#222" stroke-width="1"/>
<line x1="732.3" y1="77.8" x2="736.7" y2="77.8" stroke="#222" stroke-width="1.4"/>
<line x1="605.1" y1="126.6" x2="605.1" y2="120.5" stroke="#222" stroke-width="1"/>
<line x1="602.9" y1="120.5" x2="607.3" y2="120.5" stroke="#222" stroke-width="1.4"/>
<line x1="620" y1="124" x2="620" y2="118.5" stroke="#222" stroke-width="1"/>
<line x1="617.8" y1="118.5" x2="622.2" y2="118.5" stroke="#222" stroke-width="1.4"/>
<line x1="635" y1="117" x2="635" y2="110" stroke="#222" stroke-width="1"/>
<line x1="632.8" y1="110" x2="637.2" y2="110" stroke="#222" stroke-width="1.4"/>
<line x1="649.4" y1="105" x2="649.4" y2="98.5" stroke="#222" stroke-width="1"/>
<line x1="647.2" y1="98.5" x2="651.6" y2="98.5" stroke="#222" stroke-width="1.4"/>
<line x1="677.5" y1="117" x2="677.5" y2="111" stroke="#222" stroke-width="1"/>
<line x1="675.3" y1="111" x2="679.7" y2="111" stroke="#222" stroke-width="1.4"/>
<line x1="676.7" y1="138.6" x2="676.7" y2="131.5" stroke="#222" stroke-width="1"/>
<line x1="674.5" y1="131.5" x2="678.9" y2="131.5" stroke="#222" stroke-width="1.4"/>
<circle cx="590.8" cy="79.1" r="3.9" fill="#fff" stroke="#111" stroke-width="1"/>
<circle cx="605.2" cy="75.9" r="3.9" fill="#fff" stroke="#111" stroke-width="1"/>
<circle cx="619.6" cy="80" r="3.9" fill="#fff" stroke="#111" stroke-width="1"/>
<circle cx="633.9" cy="87.9" r="3.9" fill="#fff" stroke="#111" stroke-width="1"/>
<circle cx="648" cy="92.2" r="3.9" fill="#fff" stroke="#111" stroke-width="1"/>
<circle cx="676.9" cy="81.6" r="3.9" fill="#fff" stroke="#111" stroke-width="1"/>
<circle cx="705.6" cy="86.4" r="3.9" fill="#fff" stroke="#111" stroke-width="1"/>
<circle cx="734.5" cy="84.2" r="3.9" fill="#fff" stroke="#111" stroke-width="1"/>
<circle cx="763.3" cy="78.9" r="3.9" fill="#fff" stroke="#111" stroke-width="1"/>
<polygon points="592.3,142.8 596,146.5 592.3,150.2 588.6,146.5" fill="#7b7b7b" stroke="#111" stroke-width="0.9" stroke-linejoin="round"/>
<polygon points="606,138 609.7,141.7 606,145.4 602.3,141.7" fill="#7b7b7b" stroke="#111" stroke-width="0.9" stroke-linejoin="round"/>
<polygon points="620.8,139.3 624.5,143 620.8,146.7 617.1,143" fill="#7b7b7b" stroke="#111" stroke-width="0.9" stroke-linejoin="round"/>
<polygon points="635.9,132.7 639.6,136.4 635.9,140.1 632.2,136.4" fill="#7b7b7b" stroke="#111" stroke-width="0.9" stroke-linejoin="round"/>
<polygon points="650.3,136.3 654,140 650.3,143.7 646.6,140" fill="#7b7b7b" stroke="#111" stroke-width="0.9" stroke-linejoin="round"/>
<polygon points="679.3,134.7 683,138.4 679.3,142.1 675.6,138.4" fill="#7b7b7b" stroke="#111" stroke-width="0.9" stroke-linejoin="round"/>
<polygon points="707.5,137.8 711.2,141.5 707.5,145.2 703.8,141.5" fill="#7b7b7b" stroke="#111" stroke-width="0.9" stroke-linejoin="round"/>
<polygon points="735.5,138.8 739.2,142.5 735.5,146.2 731.8,142.5" fill="#7b7b7b" stroke="#111" stroke-width="0.9" stroke-linejoin="round"/>
<polygon points="765.5,139 769.2,142.7 765.5,146.4 761.8,142.7" fill="#7b7b7b" stroke="#111" stroke-width="0.9" stroke-linejoin="round"/>
<polygon points="589.7,138.1 586.1,144.4 593.3,144.4" fill="#7b7b7b" stroke="#111" stroke-width="0.9" stroke-linejoin="round"/>
<polygon points="605.1,137.6 601.5,143.9 608.7,143.9" fill="#7b7b7b" stroke="#111" stroke-width="0.9" stroke-linejoin="round"/>
<polygon points="618.3,132.3 614.7,138.6 621.9,138.6" fill="#7b7b7b" stroke="#111" stroke-width="0.9" stroke-linejoin="round"/>
<polygon points="633.1,138.6 629.5,144.9 636.7,144.9" fill="#7b7b7b" stroke="#111" stroke-width="0.9" stroke-linejoin="round"/>
<polygon points="647.3,133.7 643.7,140 650.9,140" fill="#7b7b7b" stroke="#111" stroke-width="0.9" stroke-linejoin="round"/>
<polygon points="676.7,135 673.1,141.3 680.3,141.3" fill="#7b7b7b" stroke="#111" stroke-width="0.9" stroke-linejoin="round"/>
<polygon points="705.5,136.6 701.9,142.9 709.1,142.9" fill="#7b7b7b" stroke="#111" stroke-width="0.9" stroke-linejoin="round"/>
<polygon points="734.7,140.8 731.1,147.1 738.3,147.1" fill="#7b7b7b" stroke="#111" stroke-width="0.9" stroke-linejoin="round"/>
<polygon points="763,136.9 759.4,143.2 766.6,143.2" fill="#7b7b7b" stroke="#111" stroke-width="0.9" stroke-linejoin="round"/>
<rect x="586.75" y="131.45" width="7.5" height="7.5" fill="#7b7b7b" stroke="#111" stroke-width="1"/>
<rect x="601.35" y="125.85" width="7.5" height="7.5" fill="#7b7b7b" stroke="#111" stroke-width="1"/>
<rect x="616.25" y="122.85" width="7.5" height="7.5" fill="#7b7b7b" stroke="#111" stroke-width="1"/>
<rect x="631.25" y="118.05" width="7.5" height="7.5" fill="#7b7b7b" stroke="#111" stroke-width="1"/>
<rect x="645.25" y="115.65" width="7.5" height="7.5" fill="#7b7b7b" stroke="#111" stroke-width="1"/>
<rect x="673.75" y="113.85" width="7.5" height="7.5" fill="#7b7b7b" stroke="#111" stroke-width="1"/>
<rect x="702.85" y="134.25" width="7.5" height="7.5" fill="#7b7b7b" stroke="#111" stroke-width="1"/>
<rect x="731.85" y="133.25" width="7.5" height="7.5" fill="#7b7b7b" stroke="#111" stroke-width="1"/>
<rect x="760.05" y="134.85" width="7.5" height="7.5" fill="#7b7b7b" stroke="#111" stroke-width="1"/>
<polygon points="590.5,142 586.5,135 594.5,135" fill="#7b7b7b" stroke="#111" stroke-width="0.9" stroke-linejoin="round"/>
<polygon points="605.1,131 601.1,124 609.1,124" fill="#7b7b7b" stroke="#111" stroke-width="0.9" stroke-linejoin="round"/>
<polygon points="620,129 616,122 624,122" fill="#7b7b7b" stroke="#111" stroke-width="0.9" stroke-linejoin="round"/>
<polygon points="635,121.6 631,114.6 639,114.6" fill="#7b7b7b" stroke="#111" stroke-width="0.9" stroke-linejoin="round"/>
<polygon points="649.4,109.6 645.4,102.6 653.4,102.6" fill="#7b7b7b" stroke="#111" stroke-width="0.9" stroke-linejoin="round"/>
<polygon points="677.5,122.3 673.5,115.3 681.5,115.3" fill="#7b7b7b" stroke="#111" stroke-width="0.9" stroke-linejoin="round"/>
<polygon points="706.6,144.5 702.6,137.5 710.6,137.5" fill="#7b7b7b" stroke="#111" stroke-width="0.9" stroke-linejoin="round"/>
<polygon points="735.6,145 731.6,138 739.6,138" fill="#7b7b7b" stroke="#111" stroke-width="0.9" stroke-linejoin="round"/>
<polygon points="764.5,144.5 760.5,137.5 768.5,137.5" fill="#7b7b7b" stroke="#111" stroke-width="0.9" stroke-linejoin="round"/>
<rect x="655.85" y="96.9" width="1.3" height="12" fill="url(#dg)"/>
<rect x="655.55" y="96.9" width="1.9" height="2.4" fill="#444"/>
<rect x="654" y="99.9" width="5.0" height="1.3" fill="#4a4a4a"/>
<rect x="673.45" y="102" width="1.3" height="12" fill="url(#dg)"/>
<rect x="673.15" y="102" width="1.9" height="2.4" fill="#444"/>
<rect x="671.6" y="105" width="5.0" height="1.3" fill="#4a4a4a"/>
<line x1="579.9" y1="148" x2="579.9" y2="153.2" stroke="#7c7c7c" stroke-width="1.25"/>
<line x1="577.65" y1="149.3" x2="582.15" y2="151.9" stroke="#7c7c7c" stroke-width="1.25"/>
<line x1="582.15" y1="149.3" x2="577.65" y2="151.9" stroke="#7c7c7c" stroke-width="1.25"/>
<line x1="586.7" y1="148" x2="586.7" y2="153.2" stroke="#7c7c7c" stroke-width="1.25"/>
<line x1="584.45" y1="149.3" x2="588.95" y2="151.9" stroke="#7c7c7c" stroke-width="1.25"/>
<line x1="588.95" y1="149.3" x2="584.45" y2="151.9" stroke="#7c7c7c" stroke-width="1.25"/>
<line x1="601.6" y1="148.8" x2="601.6" y2="154" stroke="#7c7c7c" stroke-width="1.25"/>
<line x1="599.35" y1="150.1" x2="603.85" y2="152.7" stroke="#7c7c7c" stroke-width="1.25"/>
<line x1="603.85" y1="150.1" x2="599.35" y2="152.7" stroke="#7c7c7c" stroke-width="1.25"/>
<line x1="608.4" y1="148.8" x2="608.4" y2="154" stroke="#7c7c7c" stroke-width="1.25"/>
<line x1="606.15" y1="150.1" x2="610.65" y2="152.7" stroke="#7c7c7c" stroke-width="1.25"/>
<line x1="610.65" y1="150.1" x2="606.15" y2="152.7" stroke="#7c7c7c" stroke-width="1.25"/>
<line x1="629.2" y1="148.6" x2="629.2" y2="153.8" stroke="#7c7c7c" stroke-width="1.25"/>
<line x1="626.95" y1="149.9" x2="631.45" y2="152.5" stroke="#7c7c7c" stroke-width="1.25"/>
<line x1="631.45" y1="149.9" x2="626.95" y2="152.5" stroke="#7c7c7c" stroke-width="1.25"/>
<line x1="636" y1="148.6" x2="636" y2="153.8" stroke="#7c7c7c" stroke-width="1.25"/>
<line x1="633.75" y1="149.9" x2="638.25" y2="152.5" stroke="#7c7c7c" stroke-width="1.25"/>
<line x1="638.25" y1="149.9" x2="633.75" y2="152.5" stroke="#7c7c7c" stroke-width="1.25"/>
<line x1="623.2" y1="130.4" x2="623.2" y2="135.6" stroke="#7c7c7c" stroke-width="1.25"/>
<line x1="620.95" y1="131.7" x2="625.45" y2="134.3" stroke="#7c7c7c" stroke-width="1.25"/>
<line x1="625.45" y1="131.7" x2="620.95" y2="134.3" stroke="#7c7c7c" stroke-width="1.25"/>
<line x1="630" y1="130.4" x2="630" y2="135.6" stroke="#7c7c7c" stroke-width="1.25"/>
<line x1="627.75" y1="131.7" x2="632.25" y2="134.3" stroke="#7c7c7c" stroke-width="1.25"/>
<line x1="632.25" y1="131.7" x2="627.75" y2="134.3" stroke="#7c7c7c" stroke-width="1.25"/>
<line x1="644.3" y1="128.6" x2="644.3" y2="133.8" stroke="#7c7c7c" stroke-width="1.25"/>
<line x1="642.05" y1="129.9" x2="646.55" y2="132.5" stroke="#7c7c7c" stroke-width="1.25"/>
<line x1="646.55" y1="129.9" x2="642.05" y2="132.5" stroke="#7c7c7c" stroke-width="1.25"/>
<line x1="651.1" y1="128.6" x2="651.1" y2="133.8" stroke="#7c7c7c" stroke-width="1.25"/>
<line x1="648.85" y1="129.9" x2="653.35" y2="132.5" stroke="#7c7c7c" stroke-width="1.25"/>
<line x1="653.35" y1="129.9" x2="648.85" y2="132.5" stroke="#7c7c7c" stroke-width="1.25"/>
<line x1="673.3" y1="143.8" x2="673.3" y2="149" stroke="#7c7c7c" stroke-width="1.25"/>
<line x1="671.05" y1="145.1" x2="675.55" y2="147.7" stroke="#7c7c7c" stroke-width="1.25"/>
<line x1="675.55" y1="145.1" x2="671.05" y2="147.7" stroke="#7c7c7c" stroke-width="1.25"/>
<line x1="680.1" y1="143.8" x2="680.1" y2="149" stroke="#7c7c7c" stroke-width="1.25"/>
<line x1="677.85" y1="145.1" x2="682.35" y2="147.7" stroke="#7c7c7c" stroke-width="1.25"/>
<line x1="682.35" y1="145.1" x2="677.85" y2="147.7" stroke="#7c7c7c" stroke-width="1.25"/>
<line x1="693.6" y1="143.6" x2="693.6" y2="148.8" stroke="#7c7c7c" stroke-width="1.25"/>
<line x1="691.35" y1="144.9" x2="695.85" y2="147.5" stroke="#7c7c7c" stroke-width="1.25"/>
<line x1="695.85" y1="144.9" x2="691.35" y2="147.5" stroke="#7c7c7c" stroke-width="1.25"/>
<line x1="700.4" y1="143.6" x2="700.4" y2="148.8" stroke="#7c7c7c" stroke-width="1.25"/>
<line x1="698.15" y1="144.9" x2="702.65" y2="147.5" stroke="#7c7c7c" stroke-width="1.25"/>
<line x1="702.65" y1="144.9" x2="698.15" y2="147.5" stroke="#7c7c7c" stroke-width="1.25"/>
<line x1="730.5" y1="150.6" x2="730.5" y2="155.8" stroke="#7c7c7c" stroke-width="1.25"/>
<line x1="728.25" y1="151.9" x2="732.75" y2="154.5" stroke="#7c7c7c" stroke-width="1.25"/>
<line x1="732.75" y1="151.9" x2="728.25" y2="154.5" stroke="#7c7c7c" stroke-width="1.25"/>
<line x1="737.3" y1="150.6" x2="737.3" y2="155.8" stroke="#7c7c7c" stroke-width="1.25"/>
<line x1="735.05" y1="151.9" x2="739.55" y2="154.5" stroke="#7c7c7c" stroke-width="1.25"/>
<line x1="739.55" y1="151.9" x2="735.05" y2="154.5" stroke="#7c7c7c" stroke-width="1.25"/>
<line x1="755.1" y1="147.1" x2="755.1" y2="152.3" stroke="#7c7c7c" stroke-width="1.25"/>
<line x1="752.85" y1="148.4" x2="757.35" y2="151" stroke="#7c7c7c" stroke-width="1.25"/>
<line x1="757.35" y1="148.4" x2="752.85" y2="151" stroke="#7c7c7c" stroke-width="1.25"/>
<line x1="761.9" y1="147.1" x2="761.9" y2="152.3" stroke="#7c7c7c" stroke-width="1.25"/>
<line x1="759.65" y1="148.4" x2="764.15" y2="151" stroke="#7c7c7c" stroke-width="1.25"/>
<line x1="764.15" y1="148.4" x2="759.65" y2="151" stroke="#7c7c7c" stroke-width="1.25"/>
<rect x="571" y="211.9" width="205.3" height="80.9" fill="#fff" stroke="#000" stroke-width="1.6"/>
<circle cx="578" cy="222.7" r="3.2" fill="#fff" stroke="#111" stroke-width="0.9"/>
<text transform="translate(582.73,227.2) scale(1.01,1)" font-size="14" fill="#262626">, V in V-mice</text>
<polygon points="578,233.9 574.4,240.2 581.6,240.2" fill="#7b7b7b" stroke="#111" stroke-width="0.8" stroke-linejoin="round"/>
<text transform="translate(582.77,241.4) scale(0.98,1)" font-size="14" fill="#262626">, V</text>
<polygon points="578,248.4 581.6,252 578,255.6 574.4,252" fill="#7b7b7b" stroke="#111" stroke-width="0.8" stroke-linejoin="round"/>
<text transform="translate(582.75,256.5) scale(0.99,1)" font-size="14" fill="#262626">, TMα 0.1 mg/kg</text>
<rect x="574.5" y="263" width="7" height="7" fill="#7b7b7b" stroke="#111" stroke-width="0.9"/>
<text transform="translate(582.75,271) scale(1,1)" font-size="14" fill="#262626">, TMα 1 mg/kg</text>
<polygon points="578,285.5 574.4,279.2 581.6,279.2" fill="#7b7b7b" stroke="#111" stroke-width="0.8" stroke-linejoin="round"/>
<text transform="translate(582.75,287) scale(1,1)" font-size="14" fill="#262626">, TMα 3 mg/kg</text>
<polyline points="680.5,229.5 686.5,229.5 686.5,288.6 680.5,288.6" fill="none" stroke="#111" stroke-width="1.3"/>
<text transform="translate(689.78,262.3) scale(1.01,1)" font-size="14" fill="#262626">in OHP-mice</text>
<text transform="translate(-0.11,336.5) scale(0.94,1)" font-size="23" font-weight="bold" fill="#000">D</text>
<text transform="translate(38.1,331.9) scale(0.99,1)" font-size="14" font-weight="bold" fill="#000">Paw pressure test</text>
<line x1="39" y1="333.3" x2="157.2" y2="333.3" stroke="#000" stroke-width="1.2"/>
<rect x="52.6" y="338.4" width="143.6" height="17.8" fill="#fff" stroke="#000" stroke-width="1.6"/>
<text transform="translate(78.97,352) scale(1.01,1)" font-size="14" fill="#262626">TMα or V (i.p.)</text>
<line x1="60.6" y1="357" x2="60.6" y2="365.3" stroke="#111" stroke-width="1.5" stroke-dasharray="2,1.6"/>
<polygon points="57.2,364.8 64,364.8 60.6,371.7" fill="#000"/>
<line x1="74.2" y1="357" x2="74.2" y2="365.3" stroke="#111" stroke-width="1.5" stroke-dasharray="2,1.6"/>
<polygon points="70.8,364.8 77.6,364.8 74.2,371.7" fill="#000"/>
<line x1="100.2" y1="357" x2="100.2" y2="365.3" stroke="#111" stroke-width="1.5" stroke-dasharray="2,1.6"/>
<polygon points="96.8,364.8 103.6,364.8 100.2,371.7" fill="#000"/>
<line x1="114.6" y1="357" x2="114.6" y2="365.3" stroke="#111" stroke-width="1.5" stroke-dasharray="2,1.6"/>
<polygon points="111.2,364.8 118,364.8 114.6,371.7" fill="#000"/>
<line x1="139" y1="357" x2="139" y2="365.3" stroke="#111" stroke-width="1.5" stroke-dasharray="2,1.6"/>
<polygon points="135.6,364.8 142.4,364.8 139,371.7" fill="#000"/>
<line x1="154.2" y1="357" x2="154.2" y2="365.3" stroke="#111" stroke-width="1.5" stroke-dasharray="2,1.6"/>
<polygon points="150.8,364.8 157.6,364.8 154.2,371.7" fill="#000"/>
<line x1="176.5" y1="357" x2="176.5" y2="365.3" stroke="#111" stroke-width="1.5" stroke-dasharray="2,1.6"/>
<polygon points="173.1,364.8 179.9,364.8 176.5,371.7" fill="#000"/>
<line x1="190" y1="357" x2="190" y2="365.3" stroke="#111" stroke-width="1.5" stroke-dasharray="2,1.6"/>
<polygon points="186.6,364.8 193.4,364.8 190,371.7" fill="#000"/>
<rect x="51.2" y="375.1" width="130.9" height="17.4" fill="#fff" stroke="#000" stroke-width="1.6"/>
<text transform="translate(68.42,388.8) scale(0.99,1)" font-size="14" fill="#262626">OHP or V (i.p.)</text>
<line x1="60.3" y1="393.3" x2="60.3" y2="401.4" stroke="#000" stroke-width="1.6"/>
<polygon points="56.9,400.9 63.7,400.9 60.3,407.8" fill="#000"/>
<line x1="100.2" y1="393.3" x2="100.2" y2="401.4" stroke="#000" stroke-width="1.6"/>
<polygon points="96.8,400.9 103.6,400.9 100.2,407.8" fill="#000"/>
<line x1="138.8" y1="393.3" x2="138.8" y2="401.4" stroke="#000" stroke-width="1.6"/>
<polygon points="135.4,400.9 142.2,400.9 138.8,407.8" fill="#000"/>
<line x1="176.1" y1="393.3" x2="176.1" y2="401.4" stroke="#000" stroke-width="1.6"/>
<polygon points="172.7,400.9 179.5,400.9 176.1,407.8" fill="#000"/>
<line x1="47.7" y1="400.5" x2="47.7" y2="521.5" stroke="#000" stroke-width="1.8"/>
<line x1="42.7" y1="400.5" x2="48.6" y2="400.5" stroke="#000" stroke-width="1.6"/>
<text transform="translate(19.54,405.2) scale(1.02,1)" font-size="13.5" fill="#262626">120</text>
<line x1="42.7" y1="440.8" x2="48.6" y2="440.8" stroke="#000" stroke-width="1.6"/>
<text transform="translate(19.54,445.5) scale(1.02,1)" font-size="13.5" fill="#262626">100</text>
<line x1="42.7" y1="481" x2="48.6" y2="481" stroke="#000" stroke-width="1.6"/>
<text transform="translate(27.22,485.7) scale(1.02,1)" font-size="13.5" fill="#262626">80</text>
<line x1="42.7" y1="521.3" x2="48.6" y2="521.3" stroke="#000" stroke-width="1.6"/>
<text transform="translate(27.22,526) scale(1.02,1)" font-size="13.5" fill="#262626">60</text>
<text transform="translate(14,532.47) rotate(-90) scale(0.96,1)" font-size="14" fill="#262626">Threshold (% Baseline)</text>
<line x1="61.6" y1="521.8" x2="243.02" y2="521.8" stroke="#000" stroke-width="1.8"/>
<line x1="62.5" y1="520.9" x2="62.5" y2="526.3" stroke="#000" stroke-width="1.6"/>
<line x1="88.16" y1="520.9" x2="88.16" y2="526.3" stroke="#000" stroke-width="1.6"/>
<line x1="113.82" y1="520.9" x2="113.82" y2="526.3" stroke="#000" stroke-width="1.6"/>
<line x1="139.48" y1="520.9" x2="139.48" y2="526.3" stroke="#000" stroke-width="1.6"/>
<line x1="165.14" y1="520.9" x2="165.14" y2="526.3" stroke="#000" stroke-width="1.6"/>
<line x1="190.8" y1="520.9" x2="190.8" y2="526.3" stroke="#000" stroke-width="1.6"/>
<line x1="216.46" y1="520.9" x2="216.46" y2="526.3" stroke="#000" stroke-width="1.6"/>
<line x1="242.12" y1="520.9" x2="242.12" y2="526.3" stroke="#000" stroke-width="1.6"/>
<text transform="translate(58.63,539.6) scale(1.02,1)" font-size="13.5" fill="#262626">0</text>
<text transform="translate(84.32,539.6) scale(1.02,1)" font-size="13.5" fill="#262626">2</text>
<text transform="translate(110.05,539.6) scale(1.02,1)" font-size="13.5" fill="#262626">4</text>
<text transform="translate(135.57,539.6) scale(1.02,1)" font-size="13.5" fill="#262626">6</text>
<text transform="translate(161.27,539.6) scale(1.02,1)" font-size="13.5" fill="#262626">8</text>
<text transform="translate(182.84,539.6) scale(1.02,1)" font-size="13.5" fill="#262626">10</text>
<text transform="translate(208.61,539.6) scale(1.02,1)" font-size="13.5" fill="#262626">12</text>
<text transform="translate(234.13,539.6) scale(1.02,1)" font-size="13.5" fill="#262626">14</text>
<text transform="translate(66.57,553) scale(0.99,1)" font-size="14" fill="#262626">Time (day) after the onset of</text>
<text transform="translate(106.33,566.7) scale(0.99,1)" font-size="14" fill="#262626">OHP treatment</text>
<polyline points="61.3,440.3 99.5,443 138.9,421.1 177,430.9 190,426.1 215.3,430 240.9,429" fill="none" stroke="#1a1a1a" stroke-width="1" stroke-linejoin="round"/>
<polyline points="61.3,440.3 99.5,451.9 138.9,443.6 177,471.2 190,485.7 215.3,490.5 240.9,494.4" fill="none" stroke="#1a1a1a" stroke-width="1" stroke-linejoin="round"/>
<polyline points="61.3,440.3 99.5,448 138.9,448.4 177,461.9 190,455.1 215.3,478.9 240.9,487.4" fill="none" stroke="#1a1a1a" stroke-width="1" stroke-linejoin="round"/>
<polyline points="61.3,440.3 99.5,445.9 138.9,436.9 177,441 190,444.1 215.3,450.9 240.9,451.8" fill="none" stroke="#1a1a1a" stroke-width="1" stroke-linejoin="round"/>
<line x1="138.9" y1="421.1" x2="138.9" y2="412" stroke="#222" stroke-width="1"/>
<line x1="136.7" y1="412" x2="141.1" y2="412" stroke="#222" stroke-width="1.4"/>
<line x1="177" y1="430.9" x2="177" y2="425" stroke="#222" stroke-width="1"/>
<line x1="174.8" y1="425" x2="179.2" y2="425" stroke="#222" stroke-width="1.4"/>
<line x1="190" y1="426.1" x2="190" y2="420" stroke="#222" stroke-width="1"/>
<line x1="187.8" y1="420" x2="192.2" y2="420" stroke="#222" stroke-width="1.4"/>
<line x1="215.3" y1="430" x2="215.3" y2="423.5" stroke="#222" stroke-width="1"/>
<line x1="213.1" y1="423.5" x2="217.5" y2="423.5" stroke="#222" stroke-width="1.4"/>
<line x1="240.9" y1="429" x2="240.9" y2="418.5" stroke="#222" stroke-width="1"/>
<line x1="238.7" y1="418.5" x2="243.1" y2="418.5" stroke="#222" stroke-width="1.4"/>
<line x1="138.9" y1="436.9" x2="138.9" y2="431.5" stroke="#222" stroke-width="1"/>
<line x1="136.7" y1="431.5" x2="141.1" y2="431.5" stroke="#222" stroke-width="1.4"/>
<line x1="177" y1="441" x2="177" y2="436" stroke="#222" stroke-width="1"/>
<line x1="174.8" y1="436" x2="179.2" y2="436" stroke="#222" stroke-width="1.4"/>
<line x1="190" y1="444.1" x2="190" y2="436.5" stroke="#222" stroke-width="1"/>
<line x1="187.8" y1="436.5" x2="192.2" y2="436.5" stroke="#222" stroke-width="1.4"/>
<line x1="215.3" y1="450.9" x2="215.3" y2="446" stroke="#222" stroke-width="1"/>
<line x1="213.1" y1="446" x2="217.5" y2="446" stroke="#222" stroke-width="1.4"/>
<line x1="240.9" y1="451.8" x2="240.9" y2="445" stroke="#222" stroke-width="1"/>
<line x1="238.7" y1="445" x2="243.1" y2="445" stroke="#222" stroke-width="1.4"/>
<line x1="177" y1="461.9" x2="177" y2="449.5" stroke="#222" stroke-width="1"/>
<line x1="174.8" y1="449.5" x2="179.2" y2="449.5" stroke="#222" stroke-width="1.4"/>
<line x1="190" y1="455.1" x2="190" y2="451" stroke="#222" stroke-width="1"/>
<line x1="187.8" y1="451" x2="192.2" y2="451" stroke="#222" stroke-width="1.4"/>
<line x1="215.3" y1="478.9" x2="215.3" y2="474.5" stroke="#222" stroke-width="1"/>
<line x1="213.1" y1="474.5" x2="217.5" y2="474.5" stroke="#222" stroke-width="1.4"/>
<line x1="240.9" y1="487.4" x2="240.9" y2="482.5" stroke="#222" stroke-width="1"/>
<line x1="238.7" y1="482.5" x2="243.1" y2="482.5" stroke="#222" stroke-width="1.4"/>
<line x1="190" y1="485.7" x2="190" y2="480.5" stroke="#222" stroke-width="1"/>
<line x1="187.8" y1="480.5" x2="192.2" y2="480.5" stroke="#222" stroke-width="1.4"/>
<line x1="215.3" y1="490.5" x2="215.3" y2="485.5" stroke="#222" stroke-width="1"/>
<line x1="213.1" y1="485.5" x2="217.5" y2="485.5" stroke="#222" stroke-width="1.4"/>
<line x1="240.9" y1="494.4" x2="240.9" y2="489" stroke="#222" stroke-width="1"/>
<line x1="238.7" y1="489" x2="243.1" y2="489" stroke="#222" stroke-width="1.4"/>
<line x1="99.5" y1="445.9" x2="99.5" y2="441.5" stroke="#222" stroke-width="1"/>
<line x1="97.3" y1="441.5" x2="101.7" y2="441.5" stroke="#222" stroke-width="1.4"/>
<circle cx="61.3" cy="440.3" r="3.8" fill="#fff" stroke="#111" stroke-width="1"/>
<circle cx="99.5" cy="443" r="3.8" fill="#fff" stroke="#111" stroke-width="1"/>
<circle cx="138.9" cy="421.1" r="3.8" fill="#fff" stroke="#111" stroke-width="1"/>
<circle cx="177" cy="430.9" r="3.8" fill="#fff" stroke="#111" stroke-width="1"/>
<circle cx="190" cy="426.1" r="3.8" fill="#fff" stroke="#111" stroke-width="1"/>
<circle cx="215.3" cy="430" r="3.8" fill="#fff" stroke="#111" stroke-width="1"/>
<circle cx="240.9" cy="429" r="3.8" fill="#fff" stroke="#111" stroke-width="1"/>
<polygon points="61.3,436.7 57.7,443 64.9,443" fill="#7b7b7b" stroke="#111" stroke-width="0.9" stroke-linejoin="round"/>
<polygon points="99.5,448.3 95.9,454.6 103.1,454.6" fill="#7b7b7b" stroke="#111" stroke-width="0.9" stroke-linejoin="round"/>
<polygon points="138.9,440 135.3,446.3 142.5,446.3" fill="#7b7b7b" stroke="#111" stroke-width="0.9" stroke-linejoin="round"/>
<polygon points="177,467.6 173.4,473.9 180.6,473.9" fill="#7b7b7b" stroke="#111" stroke-width="0.9" stroke-linejoin="round"/>
<polygon points="190,482.1 186.4,488.4 193.6,488.4" fill="#7b7b7b" stroke="#111" stroke-width="0.9" stroke-linejoin="round"/>
<polygon points="215.3,486.9 211.7,493.2 218.9,493.2" fill="#7b7b7b" stroke="#111" stroke-width="0.9" stroke-linejoin="round"/>
<polygon points="240.9,490.8 237.3,497.1 244.5,497.1" fill="#7b7b7b" stroke="#111" stroke-width="0.9" stroke-linejoin="round"/>
<polygon points="61.3,436.6 65,440.3 61.3,444 57.6,440.3" fill="#7b7b7b" stroke="#111" stroke-width="0.9" stroke-linejoin="round"/>
<polygon points="99.5,444.3 103.2,448 99.5,451.7 95.8,448" fill="#7b7b7b" stroke="#111" stroke-width="0.9" stroke-linejoin="round"/>
<polygon points="138.9,444.7 142.6,448.4 138.9,452.1 135.2,448.4" fill="#7b7b7b" stroke="#111" stroke-width="0.9" stroke-linejoin="round"/>
<polygon points="177,458.2 180.7,461.9 177,465.6 173.3,461.9" fill="#7b7b7b" stroke="#111" stroke-width="0.9" stroke-linejoin="round"/>
<polygon points="190,451.4 193.7,455.1 190,458.8 186.3,455.1" fill="#7b7b7b" stroke="#111" stroke-width="0.9" stroke-linejoin="round"/>
<polygon points="215.3,475.2 219,478.9 215.3,482.6 211.6,478.9" fill="#7b7b7b" stroke="#111" stroke-width="0.9" stroke-linejoin="round"/>
<polygon points="240.9,483.7 244.6,487.4 240.9,491.1 237.2,487.4" fill="#7b7b7b" stroke="#111" stroke-width="0.9" stroke-linejoin="round"/>
<rect x="57.55" y="436.55" width="7.5" height="7.5" fill="#7b7b7b" stroke="#111" stroke-width="1"/>
<rect x="95.75" y="442.15" width="7.5" height="7.5" fill="#7b7b7b" stroke="#111" stroke-width="1"/>
<rect x="135.15" y="433.15" width="7.5" height="7.5" fill="#7b7b7b" stroke="#111" stroke-width="1"/>
<rect x="173.25" y="437.25" width="7.5" height="7.5" fill="#7b7b7b" stroke="#111" stroke-width="1"/>
<rect x="186.25" y="440.35" width="7.5" height="7.5" fill="#7b7b7b" stroke="#111" stroke-width="1"/>
<rect x="211.55" y="447.15" width="7.5" height="7.5" fill="#7b7b7b" stroke="#111" stroke-width="1"/>
<rect x="237.15" y="448.05" width="7.5" height="7.5" fill="#7b7b7b" stroke="#111" stroke-width="1"/>
<rect x="194.75" y="432" width="1.3" height="12" fill="url(#dg)"/>
<rect x="194.45" y="432" width="1.9" height="2.4" fill="#444"/>
<rect x="192.9" y="435" width="5.0" height="1.3" fill="#4a4a4a"/>
<rect x="201.85" y="432" width="1.3" height="12" fill="url(#dg)"/>
<rect x="201.55" y="432" width="1.9" height="2.4" fill="#444"/>
<rect x="200" y="435" width="5.0" height="1.3" fill="#4a4a4a"/>
<rect x="219.95" y="436" width="1.3" height="12" fill="url(#dg)"/>
<rect x="219.65" y="436" width="1.9" height="2.4" fill="#444"/>
<rect x="218.1" y="439" width="5.0" height="1.3" fill="#4a4a4a"/>
<rect x="227.05" y="436" width="1.3" height="12" fill="url(#dg)"/>
<rect x="226.75" y="436" width="1.9" height="2.4" fill="#444"/>
<rect x="225.2" y="439" width="5.0" height="1.3" fill="#4a4a4a"/>
<rect x="245.85" y="441" width="1.3" height="12" fill="url(#dg)"/>
<rect x="245.55" y="441" width="1.9" height="2.4" fill="#444"/>
<rect x="244" y="444" width="5.0" height="1.3" fill="#4a4a4a"/>
<rect x="252.95" y="441" width="1.3" height="12" fill="url(#dg)"/>
<rect x="252.65" y="441" width="1.9" height="2.4" fill="#444"/>
<rect x="251.1" y="444" width="5.0" height="1.3" fill="#4a4a4a"/>
<rect x="197.15" y="445.5" width="1.3" height="12" fill="url(#dg)"/>
<rect x="196.85" y="445.5" width="1.9" height="2.4" fill="#444"/>
<rect x="195.3" y="448.5" width="5.0" height="1.3" fill="#4a4a4a"/>
<line x1="177" y1="477.7" x2="177" y2="482.9" stroke="#7c7c7c" stroke-width="1.25"/>
<line x1="174.75" y1="479" x2="179.25" y2="481.6" stroke="#7c7c7c" stroke-width="1.25"/>
<line x1="179.25" y1="479" x2="174.75" y2="481.6" stroke="#7c7c7c" stroke-width="1.25"/>
<line x1="188.1" y1="493.4" x2="188.1" y2="498.6" stroke="#7c7c7c" stroke-width="1.25"/>
<line x1="185.85" y1="494.7" x2="190.35" y2="497.3" stroke="#7c7c7c" stroke-width="1.25"/>
<line x1="190.35" y1="494.7" x2="185.85" y2="497.3" stroke="#7c7c7c" stroke-width="1.25"/>
<line x1="194.9" y1="493.4" x2="194.9" y2="498.6" stroke="#7c7c7c" stroke-width="1.25"/>
<line x1="192.65" y1="494.7" x2="197.15" y2="497.3" stroke="#7c7c7c" stroke-width="1.25"/>
<line x1="197.15" y1="494.7" x2="192.65" y2="497.3" stroke="#7c7c7c" stroke-width="1.25"/>
<line x1="211.9" y1="497" x2="211.9" y2="502.2" stroke="#7c7c7c" stroke-width="1.25"/>
<line x1="209.65" y1="498.3" x2="214.15" y2="500.9" stroke="#7c7c7c" stroke-width="1.25"/>
<line x1="214.15" y1="498.3" x2="209.65" y2="500.9" stroke="#7c7c7c" stroke-width="1.25"/>
<line x1="218.7" y1="497" x2="218.7" y2="502.2" stroke="#7c7c7c" stroke-width="1.25"/>
<line x1="216.45" y1="498.3" x2="220.95" y2="500.9" stroke="#7c7c7c" stroke-width="1.25"/>
<line x1="220.95" y1="498.3" x2="216.45" y2="500.9" stroke="#7c7c7c" stroke-width="1.25"/>
<line x1="237.6" y1="501.8" x2="237.6" y2="507" stroke="#7c7c7c" stroke-width="1.25"/>
<line x1="235.35" y1="503.1" x2="239.85" y2="505.7" stroke="#7c7c7c" stroke-width="1.25"/>
<line x1="239.85" y1="503.1" x2="235.35" y2="505.7" stroke="#7c7c7c" stroke-width="1.25"/>
<line x1="244.4" y1="501.8" x2="244.4" y2="507" stroke="#7c7c7c" stroke-width="1.25"/>
<line x1="242.15" y1="503.1" x2="246.65" y2="505.7" stroke="#7c7c7c" stroke-width="1.25"/>
<line x1="246.65" y1="503.1" x2="242.15" y2="505.7" stroke="#7c7c7c" stroke-width="1.25"/>
<text transform="translate(312.43,331.9) scale(0.98,1)" font-size="14" font-weight="bold" fill="#000">von Frey test</text>
<line x1="312.5" y1="333.3" x2="398.3" y2="333.3" stroke="#000" stroke-width="1.2"/>
<rect x="333.2" y="338.4" width="144" height="17.8" fill="#fff" stroke="#000" stroke-width="1.6"/>
<text transform="translate(358.97,352) scale(1.01,1)" font-size="14" fill="#262626">TMα or V (i.p.)</text>
<line x1="341.1" y1="357" x2="341.1" y2="365.3" stroke="#111" stroke-width="1.5" stroke-dasharray="2,1.6"/>
<polygon points="337.7,364.8 344.5,364.8 341.1,371.7" fill="#000"/>
<line x1="354.7" y1="357" x2="354.7" y2="365.3" stroke="#111" stroke-width="1.5" stroke-dasharray="2,1.6"/>
<polygon points="351.3,364.8 358.1,364.8 354.7,371.7" fill="#000"/>
<line x1="380.7" y1="357" x2="380.7" y2="365.3" stroke="#111" stroke-width="1.5" stroke-dasharray="2,1.6"/>
<polygon points="377.3,364.8 384.1,364.8 380.7,371.7" fill="#000"/>
<line x1="395.1" y1="357" x2="395.1" y2="365.3" stroke="#111" stroke-width="1.5" stroke-dasharray="2,1.6"/>
<polygon points="391.7,364.8 398.5,364.8 395.1,371.7" fill="#000"/>
<line x1="419.5" y1="357" x2="419.5" y2="365.3" stroke="#111" stroke-width="1.5" stroke-dasharray="2,1.6"/>
<polygon points="416.1,364.8 422.9,364.8 419.5,371.7" fill="#000"/>
<line x1="434.7" y1="357" x2="434.7" y2="365.3" stroke="#111" stroke-width="1.5" stroke-dasharray="2,1.6"/>
<polygon points="431.3,364.8 438.1,364.8 434.7,371.7" fill="#000"/>
<line x1="457" y1="357" x2="457" y2="365.3" stroke="#111" stroke-width="1.5" stroke-dasharray="2,1.6"/>
<polygon points="453.6,364.8 460.4,364.8 457,371.7" fill="#000"/>
<line x1="470.5" y1="357" x2="470.5" y2="365.3" stroke="#111" stroke-width="1.5" stroke-dasharray="2,1.6"/>
<polygon points="467.1,364.8 473.9,364.8 470.5,371.7" fill="#000"/>
<rect x="331.8" y="375.1" width="131.5" height="17.4" fill="#fff" stroke="#000" stroke-width="1.6"/>
<text transform="translate(348.42,388.8) scale(0.99,1)" font-size="14" fill="#262626">OHP or V (i.p.)</text>
<line x1="340.3" y1="393.3" x2="340.3" y2="401.4" stroke="#000" stroke-width="1.6"/>
<polygon points="336.9,400.9 343.7,400.9 340.3,407.8" fill="#000"/>
<line x1="380.2" y1="393.3" x2="380.2" y2="401.4" stroke="#000" stroke-width="1.6"/>
<polygon points="376.8,400.9 383.6,400.9 380.2,407.8" fill="#000"/>
<line x1="418.8" y1="393.3" x2="418.8" y2="401.4" stroke="#000" stroke-width="1.6"/>
<polygon points="415.4,400.9 422.2,400.9 418.8,407.8" fill="#000"/>
<line x1="456.1" y1="393.3" x2="456.1" y2="401.4" stroke="#000" stroke-width="1.6"/>
<polygon points="452.7,400.9 459.5,400.9 456.1,407.8" fill="#000"/>
<line x1="327" y1="400.5" x2="327" y2="521.5" stroke="#000" stroke-width="1.8"/>
<line x1="322" y1="400.5" x2="327.9" y2="400.5" stroke="#000" stroke-width="1.6"/>
<text transform="translate(305.66,405.2) scale(1.02,1)" font-size="13.5" fill="#262626">14</text>
<line x1="322" y1="420.8" x2="327.9" y2="420.8" stroke="#000" stroke-width="1.6"/>
<text transform="translate(305.93,425.5) scale(1.02,1)" font-size="13.5" fill="#262626">12</text>
<line x1="322" y1="441" x2="327.9" y2="441" stroke="#000" stroke-width="1.6"/>
<text transform="translate(305.72,445.7) scale(1.02,1)" font-size="13.5" fill="#262626">10</text>
<line x1="322" y1="461" x2="327.9" y2="461" stroke="#000" stroke-width="1.6"/>
<text transform="translate(313.47,465.7) scale(1.02,1)" font-size="13.5" fill="#262626">8</text>
<line x1="322" y1="481" x2="327.9" y2="481" stroke="#000" stroke-width="1.6"/>
<text transform="translate(313.47,485.7) scale(1.02,1)" font-size="13.5" fill="#262626">6</text>
<line x1="322" y1="501.2" x2="327.9" y2="501.2" stroke="#000" stroke-width="1.6"/>
<text transform="translate(313.34,505.9) scale(1.02,1)" font-size="13.5" fill="#262626">4</text>
<line x1="322" y1="521.4" x2="327.9" y2="521.4" stroke="#000" stroke-width="1.6"/>
<text transform="translate(313.61,526.1) scale(1.02,1)" font-size="13.5" fill="#262626">2</text>
<text transform="translate(301.3,502.83) rotate(-90) scale(1,1)" font-size="14" fill="#262626">Threshold (g)</text>
<line x1="341.6" y1="521.8" x2="523.02" y2="521.8" stroke="#000" stroke-width="1.8"/>
<line x1="342.5" y1="520.9" x2="342.5" y2="526.3" stroke="#000" stroke-width="1.6"/>
<line x1="368.16" y1="520.9" x2="368.16" y2="526.3" stroke="#000" stroke-width="1.6"/>
<line x1="393.82" y1="520.9" x2="393.82" y2="526.3" stroke="#000" stroke-width="1.6"/>
<line x1="419.48" y1="520.9" x2="419.48" y2="526.3" stroke="#000" stroke-width="1.6"/>
<line x1="445.14" y1="520.9" x2="445.14" y2="526.3" stroke="#000" stroke-width="1.6"/>
<line x1="470.8" y1="520.9" x2="470.8" y2="526.3" stroke="#000" stroke-width="1.6"/>
<line x1="496.46" y1="520.9" x2="496.46" y2="526.3" stroke="#000" stroke-width="1.6"/>
<line x1="522.12" y1="520.9" x2="522.12" y2="526.3" stroke="#000" stroke-width="1.6"/>
<text transform="translate(338.63,539.6) scale(1.02,1)" font-size="13.5" fill="#262626">0</text>
<text transform="translate(364.32,539.6) scale(1.02,1)" font-size="13.5" fill="#262626">2</text>
<text transform="translate(390.05,539.6) scale(1.02,1)" font-size="13.5" fill="#262626">4</text>
<text transform="translate(415.57,539.6) scale(1.02,1)" font-size="13.5" fill="#262626">6</text>
<text transform="translate(441.27,539.6) scale(1.02,1)" font-size="13.5" fill="#262626">8</text>
<text transform="translate(462.84,539.6) scale(1.02,1)" font-size="13.5" fill="#262626">10</text>
<text transform="translate(488.61,539.6) scale(1.02,1)" font-size="13.5" fill="#262626">12</text>
<text transform="translate(514.13,539.6) scale(1.02,1)" font-size="13.5" fill="#262626">14</text>
<text transform="translate(345.17,553) scale(0.99,1)" font-size="14" fill="#262626">Time (day) after the onset of</text>
<text transform="translate(384.93,566.7) scale(0.99,1)" font-size="14" fill="#262626">OHP treatment</text>
<polyline points="341.5,434.6 380.2,425.8 418.4,437 456.1,433 469.2,431.9 494.4,434.8 519.9,429" fill="none" stroke="#1a1a1a" stroke-width="1" stroke-linejoin="round"/>
<polyline points="341.5,430.5 380.2,438.9 418.4,439.6 456.1,434.5 469.2,478.3 494.4,472.1 519.9,480.3" fill="none" stroke="#1a1a1a" stroke-width="1" stroke-linejoin="round"/>
<polyline points="341.5,429 380.2,430 418.4,437 456.1,435.2 469.2,433.5 494.4,466.7 519.9,476.4" fill="none" stroke="#1a1a1a" stroke-width="1" stroke-linejoin="round"/>
<polyline points="341.5,431.7 380.2,431.3 418.4,435.8 456.1,430.6 469.2,436.4 494.4,430 519.9,436.7" fill="none" stroke="#1a1a1a" stroke-width="1" stroke-linejoin="round"/>
<line x1="341.5" y1="431.7" x2="341.5" y2="418" stroke="#222" stroke-width="1"/>
<line x1="339.3" y1="418" x2="343.7" y2="418" stroke="#222" stroke-width="1.4"/>
<line x1="380.2" y1="431.3" x2="380.2" y2="419" stroke="#222" stroke-width="1"/>
<line x1="378" y1="419" x2="382.4" y2="419" stroke="#222" stroke-width="1.4"/>
<line x1="418.4" y1="435.8" x2="418.4" y2="429.5" stroke="#222" stroke-width="1"/>
<line x1="416.2" y1="429.5" x2="420.6" y2="429.5" stroke="#222" stroke-width="1.4"/>
<line x1="456.1" y1="430.6" x2="456.1" y2="415.1" stroke="#222" stroke-width="1"/>
<line x1="453.9" y1="415.1" x2="458.3" y2="415.1" stroke="#222" stroke-width="1.4"/>
<line x1="469.2" y1="478.3" x2="469.2" y2="462.8" stroke="#222" stroke-width="1"/>
<line x1="467" y1="462.8" x2="471.4" y2="462.8" stroke="#222" stroke-width="1.4"/>
<line x1="494.4" y1="466.7" x2="494.4" y2="451.8" stroke="#222" stroke-width="1"/>
<line x1="492.2" y1="451.8" x2="496.6" y2="451.8" stroke="#222" stroke-width="1.4"/>
<line x1="497" y1="472.1" x2="497" y2="458" stroke="#222" stroke-width="1"/>
<line x1="494.8" y1="458" x2="499.2" y2="458" stroke="#222" stroke-width="1.4"/>
<line x1="519.9" y1="476.4" x2="519.9" y2="466.7" stroke="#222" stroke-width="1"/>
<line x1="517.7" y1="466.7" x2="522.1" y2="466.7" stroke="#222" stroke-width="1.4"/>
<line x1="521.5" y1="480.3" x2="521.5" y2="470.6" stroke="#222" stroke-width="1"/>
<line x1="519.3" y1="470.6" x2="523.7" y2="470.6" stroke="#222" stroke-width="1.4"/>
<line x1="469.2" y1="431.9" x2="469.2" y2="426.5" stroke="#222" stroke-width="1"/>
<line x1="467" y1="426.5" x2="471.4" y2="426.5" stroke="#222" stroke-width="1.4"/>
<line x1="494.4" y1="430" x2="494.4" y2="424.5" stroke="#222" stroke-width="1"/>
<line x1="492.2" y1="424.5" x2="496.6" y2="424.5" stroke="#222" stroke-width="1.4"/>
<circle cx="341.5" cy="434.6" r="3.8" fill="#fff" stroke="#111" stroke-width="1"/>
<circle cx="380.2" cy="425.8" r="3.8" fill="#fff" stroke="#111" stroke-width="1"/>
<circle cx="418.4" cy="437" r="3.8" fill="#fff" stroke="#111" stroke-width="1"/>
<circle cx="456.1" cy="433" r="3.8" fill="#fff" stroke="#111" stroke-width="1"/>
<circle cx="469.2" cy="431.9" r="3.8" fill="#fff" stroke="#111" stroke-width="1"/>
<circle cx="494.4" cy="434.8" r="3.8" fill="#fff" stroke="#111" stroke-width="1"/>
<circle cx="519.9" cy="429" r="3.8" fill="#fff" stroke="#111" stroke-width="1"/>
<polygon points="341.5,426.9 337.9,433.2 345.1,433.2" fill="#7b7b7b" stroke="#111" stroke-width="0.9" stroke-linejoin="round"/>
<polygon points="380.2,435.3 376.6,441.6 383.8,441.6" fill="#7b7b7b" stroke="#111" stroke-width="0.9" stroke-linejoin="round"/>
<polygon points="418.4,436 414.8,442.3 422,442.3" fill="#7b7b7b" stroke="#111" stroke-width="0.9" stroke-linejoin="round"/>
<polygon points="456.1,430.9 452.5,437.2 459.7,437.2" fill="#7b7b7b" stroke="#111" stroke-width="0.9" stroke-linejoin="round"/>
<polygon points="469.2,474.7 465.6,481 472.8,481" fill="#7b7b7b" stroke="#111" stroke-width="0.9" stroke-linejoin="round"/>
<polygon points="494.4,468.5 490.8,474.8 498,474.8" fill="#7b7b7b" stroke="#111" stroke-width="0.9" stroke-linejoin="round"/>
<polygon points="519.9,476.7 516.3,483 523.5,483" fill="#7b7b7b" stroke="#111" stroke-width="0.9" stroke-linejoin="round"/>
<polygon points="341.5,425.3 345.2,429 341.5,432.7 337.8,429" fill="#7b7b7b" stroke="#111" stroke-width="0.9" stroke-linejoin="round"/>
<polygon points="380.2,426.3 383.9,430 380.2,433.7 376.5,430" fill="#7b7b7b" stroke="#111" stroke-width="0.9" stroke-linejoin="round"/>
<polygon points="418.4,433.3 422.1,437 418.4,440.7 414.7,437" fill="#7b7b7b" stroke="#111" stroke-width="0.9" stroke-linejoin="round"/>
<polygon points="456.1,431.5 459.8,435.2 456.1,438.9 452.4,435.2" fill="#7b7b7b" stroke="#111" stroke-width="0.9" stroke-linejoin="round"/>
<polygon points="469.2,429.8 472.9,433.5 469.2,437.2 465.5,433.5" fill="#7b7b7b" stroke="#111" stroke-width="0.9" stroke-linejoin="round"/>
<polygon points="494.4,463 498.1,466.7 494.4,470.4 490.7,466.7" fill="#7b7b7b" stroke="#111" stroke-width="0.9" stroke-linejoin="round"/>
<polygon points="519.9,472.7 523.6,476.4 519.9,480.1 516.2,476.4" fill="#7b7b7b" stroke="#111" stroke-width="0.9" stroke-linejoin="round"/>
<rect x="337.75" y="427.95" width="7.5" height="7.5" fill="#7b7b7b" stroke="#111" stroke-width="1"/>
<rect x="376.45" y="427.55" width="7.5" height="7.5" fill="#7b7b7b" stroke="#111" stroke-width="1"/>
<rect x="414.65" y="432.05" width="7.5" height="7.5" fill="#7b7b7b" stroke="#111" stroke-width="1"/>
<rect x="452.35" y="426.85" width="7.5" height="7.5" fill="#7b7b7b" stroke="#111" stroke-width="1"/>
<rect x="465.45" y="432.65" width="7.5" height="7.5" fill="#7b7b7b" stroke="#111" stroke-width="1"/>
<rect x="490.65" y="426.25" width="7.5" height="7.5" fill="#7b7b7b" stroke="#111" stroke-width="1"/>
<rect x="516.15" y="432.95" width="7.5" height="7.5" fill="#7b7b7b" stroke="#111" stroke-width="1"/>
<rect x="474.75" y="420.3" width="1.3" height="12" fill="url(#dg)"/>
<rect x="474.45" y="420.3" width="1.9" height="2.4" fill="#444"/>
<rect x="472.9" y="423.3" width="5.0" height="1.3" fill="#4a4a4a"/>
<rect x="499.95" y="416.4" width="1.3" height="12" fill="url(#dg)"/>
<rect x="499.65" y="416.4" width="1.9" height="2.4" fill="#444"/>
<rect x="498.1" y="419.4" width="5.0" height="1.3" fill="#4a4a4a"/>
<rect x="526.05" y="439.6" width="1.3" height="12" fill="url(#dg)"/>
<rect x="525.75" y="439.6" width="1.9" height="2.4" fill="#444"/>
<rect x="524.2" y="442.6" width="5.0" height="1.3" fill="#4a4a4a"/>
<line x1="471.2" y1="483.4" x2="471.2" y2="488.6" stroke="#7c7c7c" stroke-width="1.25"/>
<line x1="468.95" y1="484.7" x2="473.45" y2="487.3" stroke="#7c7c7c" stroke-width="1.25"/>
<line x1="473.45" y1="484.7" x2="468.95" y2="487.3" stroke="#7c7c7c" stroke-width="1.25"/>
<line x1="519.4" y1="488.3" x2="519.4" y2="493.5" stroke="#7c7c7c" stroke-width="1.25"/>
<line x1="517.15" y1="489.6" x2="521.65" y2="492.2" stroke="#7c7c7c" stroke-width="1.25"/>
<line x1="521.65" y1="489.6" x2="517.15" y2="492.2" stroke="#7c7c7c" stroke-width="1.25"/>
<line x1="526.2" y1="488.3" x2="526.2" y2="493.5" stroke="#7c7c7c" stroke-width="1.25"/>
<line x1="523.95" y1="489.6" x2="528.45" y2="492.2" stroke="#7c7c7c" stroke-width="1.25"/>
<line x1="528.45" y1="489.6" x2="523.95" y2="492.2" stroke="#7c7c7c" stroke-width="1.25"/>
<rect x="562.5" y="411" width="191.1" height="66.8" fill="#fff" stroke="#000" stroke-width="1.6"/>
<circle cx="571.2" cy="420.2" r="3.2" fill="#fff" stroke="#111" stroke-width="0.9"/>
<text transform="translate(576.15,424.7) scale(1,1)" font-size="14" fill="#262626">, V in V-rats</text>
<polygon points="571.2,432.8 567.6,439.1 574.8,439.1" fill="#7b7b7b" stroke="#111" stroke-width="0.8" stroke-linejoin="round"/>
<text transform="translate(576.12,440.3) scale(1.02,1)" font-size="14" fill="#262626">, V</text>
<polygon points="571.2,447.7 574.8,451.3 571.2,454.9 567.6,451.3" fill="#7b7b7b" stroke="#111" stroke-width="0.8" stroke-linejoin="round"/>
<text transform="translate(576.13,455.8) scale(1.01,1)" font-size="14" fill="#262626">, TMα 1 mg/kg</text>
<rect x="567.7" y="464" width="7" height="7" fill="#7b7b7b" stroke="#111" stroke-width="0.9"/>
<text transform="translate(576.13,472) scale(1.01,1)" font-size="14" fill="#262626">, TMα 3 mg/kg</text>
<polyline points="668,427.6 674,427.6 674,476 668,476" fill="none" stroke="#111" stroke-width="1.3"/>
<text transform="translate(676.9,455.7) scale(0.99,1)" font-size="14" fill="#262626">in OHP-rats</text>
</svg>
</body></html>
